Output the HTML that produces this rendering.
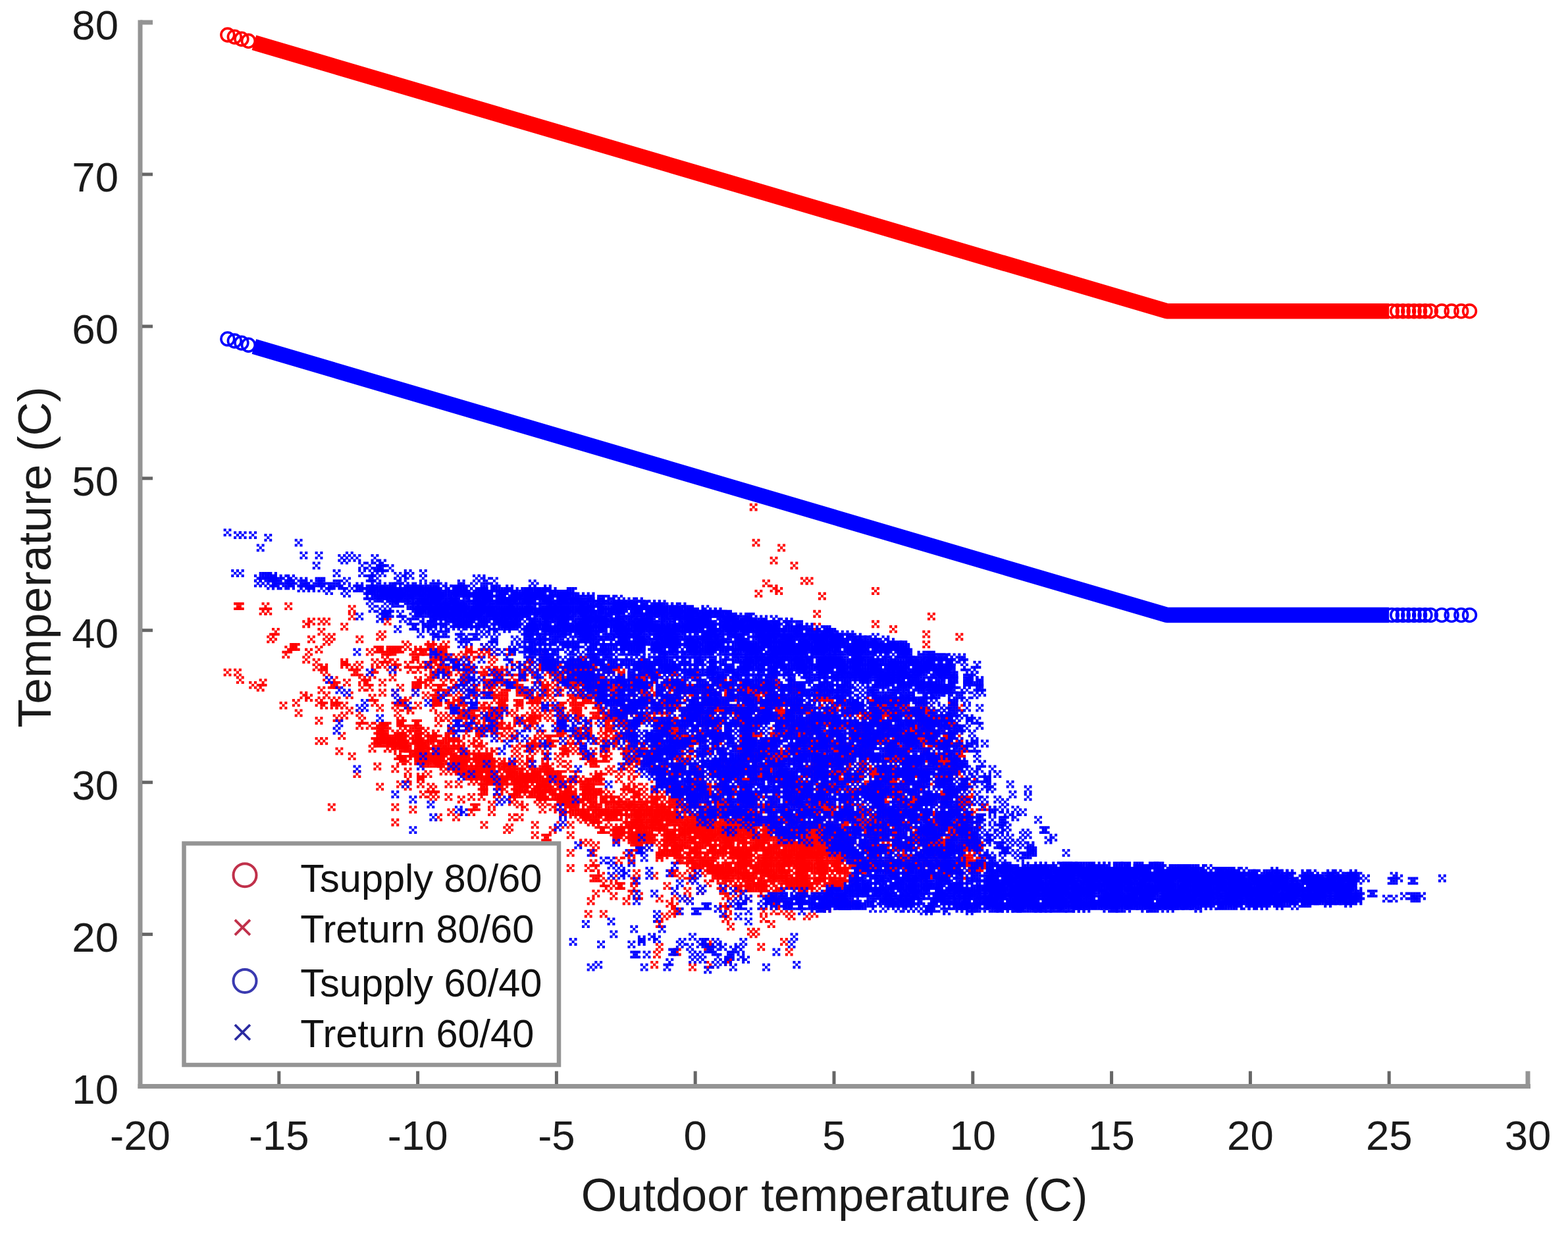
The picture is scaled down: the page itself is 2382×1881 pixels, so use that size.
<!DOCTYPE html>
<html><head><meta charset="utf-8"><title>Temperature vs outdoor temperature</title>
<style>html,body{margin:0;padding:0;background:#fff;width:2382px;height:1881px;overflow:hidden}svg{display:block}</style>
</head><body>
<svg width="2382" height="1881" viewBox="0 0 2382 1881"><polyline points="385.9,64.8 1772.9,472.8 2110.2,472.8" fill="none" stroke="#ff0000" stroke-width="23.5" stroke-linecap="butt" stroke-linejoin="round"/>
<g fill="none" stroke="#ff0000" stroke-width="3.6"><circle cx="345.8" cy="53.0" r="9.9"/><circle cx="356.3" cy="56.1" r="9.9"/><circle cx="366.9" cy="59.2" r="9.9"/><circle cx="377.4" cy="62.3" r="9.9"/><circle cx="2114.4" cy="472.8" r="9.9"/><circle cx="2122.8" cy="472.8" r="9.9"/><circle cx="2131.3" cy="472.8" r="9.9"/><circle cx="2139.7" cy="472.8" r="9.9"/><circle cx="2148.1" cy="472.8" r="9.9"/><circle cx="2156.6" cy="472.8" r="9.9"/><circle cx="2165.0" cy="472.8" r="9.9"/><circle cx="2173.4" cy="472.8" r="9.9"/><circle cx="2190.3" cy="472.8" r="9.9"/><circle cx="2205.1" cy="472.8" r="9.9"/><circle cx="2219.8" cy="472.8" r="9.9"/><circle cx="2232.5" cy="472.8" r="9.9"/></g>
<defs><marker id="mr" markerUnits="userSpaceOnUse" overflow="visible" markerWidth="3" markerHeight="3"><path d="M-1.03-1.03h1.06v1.06h-1.06zM.97-1.03h1.06v1.06h-1.06zM-.03-.03h1.06v1.06h-1.06zM-1.03.97h1.06v1.06h-1.06zM.97.97h1.06v1.06h-1.06z" fill="#ff0000"/></marker><marker id="mb" markerUnits="userSpaceOnUse" overflow="visible" markerWidth="3" markerHeight="3"><path d="M-1.03-1.03h1.06v1.06h-1.06zM.97-1.03h1.06v1.06h-1.06zM-.03-.03h1.06v1.06h-1.06zM-1.03.97h1.06v1.06h-1.06zM.97.97h1.06v1.06h-1.06z" fill="#0000ff"/></marker></defs><g transform="scale(3.86062,3.86242)"><polyline points="119,273 116,276 125,276 127,277 126,275 131,276 135,281 132,282 125,283 141,285 145,285 134,289 125,291 127,291 133,295 138,297 140,304 148,301 155,302 160,306 130,317 155,317 155,323 166,312 171,312 296,199 297,213 307,215 304,220 312,222 316,228 318,228 301,229 304,231 306,232 298,233 323,234 321,241 321,246 344,232 344,245 351,247 366,242 364,249 364,253 377,250 93,238 94,238 104,238 103,240 105,240 113,238 122,244 126,244 128,244 107,250 106,251 108,248 113,255 112,257 115,254 129,251 128,252 130,250 120,259 124,260 138,239 138,242 135,246 141,251 149,250 150,249 89,264 93,264 94,267 99,269 103,268 102,270 111,277 117,280 121,274 317,335 305,344 275,336 294,342 289,328 278,324 310,346 245,320 303,341 270,326 224,318 251,319 173,299 198,307 224,314 273,324 217,307 292,341 286,331 285,342 167,299 249,322 294,335 158,289 315,333 313,342 182,300 255,329 242,315 304,333 293,344 291,349 245,315 266,334 156,292 264,330 286,333 230,310 252,324 227,313 318,331 181,300 178,297 203,307 151,289 188,300 171,296 311,328 207,305 329,347 288,335 183,303 327,332 226,316 180,303 282,342 328,331 261,324 206,310 284,344 232,313 226,317 212,310 279,323 189,297 248,328 167,295 149,289 163,291 309,348 275,324 279,342 188,303 264,320 288,324 310,348 240,320 246,329 166,292 315,350 199,301 313,334 308,331 322,337 266,320 290,329 239,321 231,321 273,339 319,328 274,334 260,332 251,330 296,340 327,331 289,337 188,306 292,338 286,332 331,339 280,334 310,330 330,337 272,335 221,314 160,287 203,308 159,294 282,323 322,342 322,334 274,328 163,296 272,330 323,340 284,334 315,336 218,311 309,337 203,310 318,349 311,333 159,293 307,328 259,320 291,343 246,319 260,323 276,337 312,338 211,308 192,299 319,333 186,299 204,307 304,336 270,338 164,291 286,329 230,321 330,338 321,342 284,326 167,296 277,339 294,349 255,318 306,344 246,317 242,316 243,328 306,331 155,291 267,335 249,325 175,295 208,306 291,336 327,343 178,300 316,343 301,328 229,311 246,316 260,335 206,307 301,341 301,331 308,346 237,311 208,304 305,331 303,333 300,327 165,291 225,311 254,320 257,319 201,304 267,327 272,337 333,346 221,315 269,320 297,335 273,325 291,327 316,335 158,290 260,334 283,344 290,348 314,346 152,294 268,334 191,301 317,336 165,293 255,330 221,309 234,323 291,340 208,312 198,301 257,321 265,331 254,321 171,290 318,339 250,331 298,329 253,316 325,331 289,344 305,345 260,318 230,313 215,308 248,326 206,305 174,296 210,307 243,327 330,348 210,309 257,322 334,340 303,345 328,344 323,336 194,306 175,297 316,340 311,348 268,329 320,340 156,289 273,334 303,336 279,329 220,315 160,294 331,342 269,331 297,342 279,339 268,326 293,336 279,341 238,314 262,323 310,337 184,297 250,316 230,309 183,297 323,339 308,345 248,324 314,348 317,341 322,347 317,346 249,327 298,346 262,331 284,333 307,334 271,338 329,348 276,327 289,325 266,333 279,327 273,336 301,347 264,327 277,323 328,334 217,313 305,346 222,312 178,301 297,339 294,338 318,348 298,342 323,342 262,318 251,322 270,324 155,293 282,329 299,331 295,328 328,333 283,340 277,336 194,307 290,336 321,345 300,329 168,295 332,331 275,332 315,338 318,336 251,329 160,293 193,305 314,338 290,335 294,339 212,306 212,309 316,332 291,334 280,339 316,349 322,336 192,300 321,332 303,347 315,343 182,298 255,324 236,319 282,324 276,329 268,338 186,302 304,343 302,345 295,349 252,317 189,304 261,329 273,340 309,335 221,312 300,338 257,324 262,335 280,329 320,342 192,307 317,330 258,323 223,309 301,343 193,307 293,347 237,314 154,290 319,348 318,334 265,335 239,320 180,302 171,293 222,308 300,347 309,340 326,339 261,322 304,350 236,326 290,342 249,329 290,334 309,327 250,326 328,332 233,315 245,318 188,297 289,333 216,310 201,305 275,320 301,333 284,324 324,335 307,329 182,299 186,301 281,328 304,344 235,312 283,348 299,329 287,325 319,335 223,319 288,329 242,330 265,322 188,302 193,302 296,328 268,328 148,289 291,325 332,333 198,305 309,338 217,317 192,302 329,338 264,323 165,294 263,318 299,351 301,339 232,312 274,332 200,304 297,332 295,344 292,340 242,326 237,315 277,324 334,338 321,338 231,311 316,338 183,304 311,331 238,319 227,319 197,304 210,305 319,336 260,326 190,300 172,300 284,328 259,318 242,321 302,337 288,336 171,299 209,312 297,337 297,333 171,298 224,310 243,320 308,343 301,335 203,312 197,299 177,294 278,330 320,330 332,347 161,296 269,323 282,343 282,332 318,341 208,305 262,333 207,310 322,339 326,341 247,324 283,331 311,347 228,315 313,340 215,309 267,325 183,300 283,326 245,328 293,338 230,319 196,307 300,337 279,331 277,340 201,301 274,336 291,333 288,334 310,347 324,334 262,327 258,322 206,309 315,331 291,331 320,337 304,337 308,338 301,338 297,348 252,329 225,312 173,300 304,334 291,344 191,304 291,347 300,349 242,319 205,306 302,328 241,320 277,331 277,329 259,331 254,329 306,339 215,305 302,329 323,344 241,321 277,330 160,289 271,323 302,339 245,323 308,329 303,328 297,344 213,313 311,335 173,296 153,291 262,319 290,327 294,340 252,327 326,334 270,328 239,316 310,343 202,307 196,309 177,295 229,313 213,309 273,323 181,301 167,293 186,305 235,316 317,343 261,336 325,335 225,314 316,345 281,341 230,318 326,335 314,339 271,334 151,290 184,305 261,318 317,332 198,310 288,326 182,297 259,336 317,338 307,327 298,349 250,330 228,321 294,345 270,336 264,319 299,348 290,346 302,343 193,301 305,341 224,313 322,340 327,346 166,298 299,342 186,303 191,307 229,322 193,303 296,329 250,323 294,336 189,302 264,328 175,293 325,333 322,344 191,297 213,314 290,349 273,321 265,321 292,324 252,320 179,298 192,304 280,332 199,300 277,326 172,299 246,327 271,330 182,303 292,348 312,333 284,341 298,341 288,341 169,290 234,319 314,330 268,323 148,292 241,327 293,339 329,339 249,331 261,331 279,333 289,343 286,335 154,294 240,326 238,321 314,341 307,336 291,337 296,333 335,340 274,340 287,327 148,285 319,334 245,326 316,342 285,332 261,321 207,306 318,328 317,347 206,304 281,333 265,330 269,332 323,346 292,329 192,298 276,339 182,304 257,318 206,308 300,345 181,296 168,297 329,331 331,341 317,334 296,334 259,322 233,316 239,323 220,314 284,346 285,330 280,333 225,316 271,325 289,340 217,311 248,319 326,337 331,345 279,337 164,290 255,331 277,321 185,307 292,336 180,295 254,319 291,339 275,327 295,346 241,314 297,341 272,334 324,330 260,325 247,316 221,319 272,323 154,291 313,336 223,310 327,345 177,299 157,289 254,326 279,324 321,329 298,343 203,309 205,305 327,329 219,313 287,332 261,325 308,344 329,337 149,292 177,302 307,330 268,336 326,338 234,322 283,336 301,334 230,320 280,342 332,337 164,287 283,325 225,320 215,313 327,334 151,291 150,289 314,343 252,332 237,320 307,335 225,317 181,303 261,320 180,298 293,330 281,336 249,330 275,323 221,313 305,328 253,317 287,324 303,334 317,333 253,328 312,328 196,308 240,319 311,330 153,292 257,316 244,326 319,337 298,332 212,313 204,303 316,344 187,298 148,291 335,346 182,301 242,318 191,302 296,326 307,340 256,330 223,316 195,301 255,333 320,335 187,304 305,332 298,348 285,338 250,320 281,344 255,317 311,334 214,315 299,332 209,305 306,328 329,341 201,302 313,346 171,300 164,294 314,347 202,306 174,294 186,304 301,330 297,326 192,306 334,345 169,294 234,318 278,326 288,348 304,338 270,319 157,292 328,348 320,346 256,329 231,315 233,322 188,299 253,323 253,324 312,343 161,290 266,332 174,298 302,348 262,329 211,305 211,314 193,300 307,332 308,339 324,329 149,287 263,330 158,292 297,329 251,321 228,319 167,298 243,316 248,317 315,341 214,308 309,333 309,331 176,298 325,347 206,312 233,319 309,343 220,307 223,313 191,299 248,330 268,327 189,298 322,338 162,296 311,339 230,311 173,292 307,337 243,326 312,332 289,330 330,332 270,327 315,340 289,329 155,288 278,334 321,346 309,339 256,321 312,345 198,306 235,324 247,317 285,344 180,300 293,326 243,319 219,309 187,297 256,324 307,341 312,337 249,316 288,325 284,329 323,345 221,308 326,348 239,317 275,330 233,312 285,334 163,288 265,318 326,344 197,309 275,325 315,347 309,346 197,302 218,313 315,329 317,340 292,339 208,309 328,347 256,316 294,348 273,328 278,331 263,321 305,340 232,323 274,333 295,345 224,316 230,316 271,341 167,292 282,326 278,329 254,328 285,323 174,301 256,327 232,316 324,342 255,323 165,295 264,335 296,336 295,327 226,315 315,349 292,325 283,343 273,330 289,349 153,290 164,298 276,328 168,293 277,327 314,344 324,339 306,349 283,342 174,293 158,294 295,326 170,299 289,327 182,296 190,307 323,332 297,347 262,321 314,337 266,326 179,299 329,330 260,319 293,345 191,298 283,335 164,295 170,298 321,350 308,341 314,342 293,327 312,339 276,338 237,319 296,332 205,310 259,327 251,323 248,315 232,318 167,297 212,312 242,327 305,338 252,326 319,331 287,343 269,324 266,322 287,336 295,335 286,344 306,336 272,327 310,338 147,291 286,340 193,306 309,336 165,296 285,327 291,335 164,293 292,344 181,294 215,310 280,336 275,342 271,339 316,341 247,321 314,336 299,338 292,330 282,327 316,347 276,341 204,306 286,330 183,296 263,323 255,319 211,311 270,322 209,308 213,308 274,326 188,301 283,322 282,341 187,305 172,295 158,291 263,327 202,311 165,298 199,307 266,329 307,331 222,315 321,331 244,314 291,324 202,304 331,346 301,326 231,322 323,343 257,325 196,306 189,300 266,335 335,344 237,326 291,338 263,335 211,310 153,293 285,328 214,307 267,333 286,348 276,325 328,341 185,300 302,338 159,292 194,305 324,331 190,303 278,325 331,336 253,326 330,336 299,339 259,325 205,303 264,333 300,343 285,326 327,340 235,322 310,335 249,328 246,324 250,324 281,338 330,340 293,332 281,345 278,339 283,341 250,319 302,341 271,320 320,332 288,338 292,332 196,305 312,330 219,318 323,341 312,346 315,332 303,344 200,302 298,333 259,317 266,321 213,311 249,324 162,297 267,338 286,345 287,347 276,322 266,338 243,325 315,337 272,331 166,290 250,329 268,331 263,328 251,318 242,329 281,329 266,324 316,346 306,350 224,312 257,315 252,312 316,327 286,323 306,326 300,325 214,304 303,325 307,326 215,302 211,304 326,328 250,309 231,307 235,307 183,288 274,321 246,309 176,289 253,309 249,312 308,323 307,322 329,327 194,295 272,319 197,301 216,301 273,318 264,315 280,318 187,291 304,325 311,325 293,322 326,327 267,315 254,314 208,299 177,290 320,325 323,325 177,291 181,291 169,289 268,315 260,312 179,293 192,296 232,308 150,286 174,290 287,323 248,310 236,307 164,284 208,298 296,327 229,308 235,305 267,317 279,321 276,319 290,319 257,314 319,324 232,309 210,303 297,322 218,304 165,287 208,302 159,286 240,312 190,297 311,327 257,311 283,320 270,318 185,292 274,317 294,321 158,287 277,319 315,327 201,300 178,292 214,301 325,323 256,314 171,288 245,311 291,322 305,325 187,294 225,307 329,328 216,304 281,318 179,290 203,301 246,310 292,323 262,315 280,319 315,321 296,325 327,327 220,304 232,307 211,303 290,321 274,316 328,326 233,305 271,315 170,290 279,319 285,318 278,322 216,303 288,321 162,286 166,256 157,255 160,254 172,258 169,254 154,255 164,255 170,256 172,254 165,256 169,253 168,254 162,256 173,256 149,255 153,256 174,258 174,255 153,255 156,255 174,256 135,277 243,306 164,269 221,277 209,295 157,270 238,312 131,277 247,299 158,276 126,271 264,316 182,268 151,285 226,306 163,258 215,290 244,303 171,272 208,281 190,266 204,272 235,304 219,307 170,265 204,276 330,334 188,292 202,294 259,306 198,263 253,315 212,269 250,313 219,304 167,256 237,283 256,299 221,286 229,297 164,267 216,292 175,282 238,298 146,265 138,262 194,287 259,314 182,278 176,263 236,305 152,258 227,287 231,299 213,302 203,295 261,316 155,260 154,266 214,275 175,258 214,272 259,316 143,266 156,280 168,269 217,272 137,279 154,256 214,270 151,288 180,286 185,277 150,272 145,270 246,296 131,269 214,300 223,300 142,270 171,263 247,292 195,265 226,275 209,300 209,277 211,292 191,285 253,311 161,263 166,268 146,274 202,280 250,312 164,277 203,283 196,267 181,293 132,275 241,291 207,262 234,311 201,286 210,274 228,272 174,268 213,288 225,275 243,304 184,268 177,284 128,273 191,268 170,274 268,318 141,261 147,260 128,266 131,267 210,275 163,259 215,292 258,310 155,255 147,263 124,262 223,302 189,265 201,266 155,277 329,333 132,269 195,299 229,275 164,263 150,268 210,262 147,276 182,281 196,263 204,298 190,263 151,259 206,266 130,269 158,284 136,268 133,277 239,303 238,294 203,276 220,300 176,266 236,291 221,287 226,279 149,286 248,304 163,270 219,297 151,256 207,294 212,273 163,269 243,284 235,306 189,288 221,295 220,277 254,299 154,261 157,283 185,263 169,268 226,304 228,306 252,299 221,269 210,294 229,307 139,264 218,269 186,272 235,283 219,305 210,304 161,279 172,281 182,257 142,283 206,300 213,281 249,299 181,276 179,258 157,276 251,304 239,297 195,289 214,297 141,280 248,307 165,261 193,282 213,268 202,298 137,273 248,302 175,265 232,310 240,314 152,285 233,299 160,275 223,294 221,284 142,267 245,295 235,311 199,290 225,306 217,292 220,280 247,288 234,281 186,280 188,287 229,277 189,272 208,272 177,286 226,295 181,280 182,270 247,301 189,280 149,278 171,276 168,262 245,301 196,264 194,272 222,295 234,300 175,264 222,290 251,300 190,279 159,278 220,282 215,303 196,265 233,300 226,288 233,274 232,298 166,288 211,290 177,276 232,297 198,276 250,298 223,306 179,279 186,283 191,280 140,264 240,302 195,269 144,268 163,284 160,261 284,325 153,262 167,287 204,266 163,272 227,278 202,289 127,263 222,296 224,293 234,291 150,261 237,295 127,262 234,277 228,282 167,273 177,287 135,260 176,295 157,284 242,290 229,289 135,261 178,269 214,294 156,262 155,272 148,255 194,282 172,284 193,261 196,280 214,271 236,289 182,264 204,270 248,294 222,282 217,265 194,264 192,277 183,267 196,277 208,293 221,265 205,272 231,286 202,261 246,295 204,277 207,285 191,286 184,255 231,283 196,284 230,271 208,284 220,286 240,286 198,273 205,266 183,286 173,270 170,260 175,272 216,282 199,285 184,278 174,257 195,274 203,268 206,264 173,262 210,283 242,293 226,283 238,280 172,262 194,256 169,261 195,285 175,253 251,294 182,284 222,263 198,274 200,269 184,270 188,257 179,261 216,269 172,275 219,266 239,286 211,275 236,274 212,278 227,288 179,275 197,276 200,280 210,269 243,288 192,269 222,266 197,277 237,288 215,278 189,277 187,270 188,288 240,292 226,278 179,282 198,272 212,262 209,285 194,258 229,272 217,260 181,275 225,278 237,285 235,277 172,259 187,285 191,278 204,292 179,268 198,287 195,273 176,272 244,284 191,272 172,257 182,260 228,291 226,293 185,275 225,291 233,281 211,282 224,274 201,268 197,266 227,264 210,265 209,283 232,265 204,282 183,281 231,287 204,271 181,279 230,274 213,290 238,293 184,286 179,278 239,289 209,291 187,282 196,268 221,283 229,285 218,263 233,295 221,293 220,290 191,256 231,288 196,285 171,257 230,275 185,262 227,281 229,295 216,290 172,270 190,254 178,259 249,296 177,277 191,283 196,290 237,298 227,280 225,269 208,259 170,259 242,282 222,281 193,279 176,281 231,275 239,287 238,296 176,277 242,291 199,268 207,273 183,262 240,283 181,273 205,261 191,264 193,264 193,268 193,286 212,289 211,293 195,281 193,257 226,269 223,263 184,256 231,289 193,271 212,275 236,279 215,281 208,275 208,292 207,282 195,280 220,272 237,290 199,270 210,280 220,287 236,280 168,266 191,282 234,271 180,272 219,288 180,264 225,272 195,279 172,276 200,256 213,257 239,282 185,260 190,293 203,284 175,263 189,256 170,276 209,282 218,284 189,285 182,266 229,270 170,278 217,274 181,281 185,280 205,264 185,257 218,278 197,278 226,268 159,253 116,254 121,256 122,251 125,255 126,248 120,245 145,256 152,244 336,312 362,284 265,302 277,280 343,335 363,345 267,277 293,287 323,293 337,324 242,269 328,277 343,316 264,286 359,327 278,295 380,339 273,311 286,268 259,303 303,298 237,269 283,319 355,299 307,309 381,331 361,290 338,292 361,304 325,298 349,285 321,299 255,269 382,328 284,281 248,292 379,294 249,280 288,308 322,293 304,266 289,318 279,280 357,326 326,280 325,283 336,287 215,264 281,294 334,314 375,297 347,329 345,279 348,327 333,334 302,280 375,318 359,287 385,332 352,313 268,268 299,322 353,310 376,302 320,301 296,307 327,275 265,290 324,282 233,269 312,322 284,279 280,309 372,321 385,341 349,280 266,277 338,304 328,289 329,311 351,292 344,337 326,325 352,296 271,283 286,289 292,299 373,329 334,316 330,275 342,308 265,305 350,281 367,332 334,307 291,275 351,299 350,323 332,297 290,293 355,288 346,281 320,328 280,279 351,298 345,291 231,262 368,283 368,321 340,333 294,274 379,341 297,318 302,281 357,282 260,297 348,332 301,325 346,278 334,301 363,288 344,314 279,287 278,298 263,278 356,332 324,291 321,286 336,321 313,271 306,280 379,339 339,294 297,270 297,305 341,290 314,325 350,338 334,303 352,333 357,315 375,302 267,275 319,289 309,289 274,305 326,278 252,275 355,298 341,325 309,288 294,316 356,330 283,292 367,307 287,304 361,286 282,302 357,296 314,271 331,304 353,321 381,311 279,312 262,288 260,303 371,327 237,270 296,319 324,274 295,321 339,304 348,341 309,308 352,332 334,294 314,327 303,322 250,286 306,300 387,317 349,338 302,298 356,333 319,286 253,269 272,304 364,329 238,281 354,288 315,281 244,274 335,308 344,317 312,271 377,341 332,342 244,269 326,310 293,276 276,318 323,277 299,292 287,271 289,273 351,325 352,340 317,312 328,293 365,343 369,306 364,319 361,335 292,295 308,297 360,330 335,329 332,302 326,288 371,307 256,279 335,286 362,281 350,294 371,313 266,287 305,289 348,324 290,280 264,268 370,331 353,331 363,306 251,295 337,337 259,284 338,317 275,302 317,287 340,341 328,324 321,272 307,299 309,276 351,297 376,333 311,306 356,294 264,283 363,278 251,280 262,275 348,277 341,319 313,287 283,280 335,330 318,283 325,328 346,311 292,269 228,266 255,272 229,259 380,333 378,296 355,337 314,276 278,273 295,317 244,264 261,278 316,304 368,329 254,264 272,296 321,313 351,304 326,299 353,296 268,286 281,314 369,321 271,313 311,314 234,262 285,289 290,279 358,318 343,328 267,297 369,299 263,311 376,324 297,284 265,264 295,289 344,322 371,292 361,289 305,312 353,295 304,269 289,312 313,295 306,308 374,325 278,276 301,277 333,321 288,319 339,281 247,280 340,321 273,316 253,275 317,323 254,297 292,307 228,267 285,299 293,302 252,265 316,298 292,291 286,274 346,310 329,319 300,293 305,284 241,282 356,289 360,321 355,306 341,297 366,325 346,313 282,314 228,264 348,283 370,334 250,270 369,317 365,286 386,338 320,312 298,289 290,294 364,292 327,309 278,310 347,279 253,289 214,260 304,274 311,315 304,276 231,268 377,313 314,279 348,286 321,325 299,304 322,324 377,326 363,310 270,292 310,314 379,326 371,300 288,303 232,269 355,317 298,278 354,330 317,304 268,291 334,297 266,301 368,308 314,321 297,313 283,300 286,271 352,312 305,274 310,282 291,295 281,271 295,295 279,281 257,272 371,297 301,295 374,301 313,312 289,284 323,326 257,267 380,326 351,340 357,293 293,272 364,339 297,271 311,299 364,284 337,323 308,282 300,317 237,274 348,333 312,314 328,278 338,314 341,309 308,322 244,265 269,282 380,342 335,295 251,283 360,317 384,334 312,295 298,320 318,318 260,292 330,328 301,272 358,304 298,271 367,344 374,300 317,292 325,319 319,275 345,334 313,308 316,317 359,314 306,322 363,304 292,309 365,324 358,279 384,331 314,295 328,309 296,298 296,315 377,298 362,308 370,325 264,309 380,338 339,321 343,283 373,312 305,297 272,314 292,296 339,311 370,306 253,291 331,313 336,306 359,290 294,302 307,276 329,295 343,325 349,301 263,277 275,281 228,268 274,280 368,325 248,273 300,322 268,274 339,332 323,311 278,316 339,300 351,339 283,294 299,312 252,264 273,265 304,301 356,296 348,314 280,272 365,341 291,320 333,296 281,287 258,276 369,301 352,314 377,323 245,278 338,339 284,307 281,276 337,278 278,284 333,331 347,277 362,331 353,280 338,285 362,327 322,329 291,315 306,303 292,271 270,277 327,279 360,338 259,265 306,278 263,295 290,278 325,321 281,299 353,323 280,322 268,299 282,284 352,317 352,304 322,301 344,312 364,282 319,326 266,293 324,308 341,327 316,309 327,320 306,277 308,320 338,303 277,312 309,304 366,280 346,283 319,318 365,288 277,272 286,270 335,294 329,294 367,327 360,339 265,298 315,322 310,288 288,310 357,303 339,299 323,288 369,293 362,283 313,307 272,270 344,309 274,300 301,317 370,342 310,286 367,315 365,334 386,340 314,278 373,342 362,334 361,309 262,284 369,333 360,314 248,288 304,306 299,301 257,306 308,308 248,284 301,318 364,288 314,302 306,274 374,289 232,266 281,292 344,333 355,294 339,342 324,315 369,297 286,311 372,325 233,270 294,319 271,290 352,328 282,317 366,296 288,274 377,278 335,289 255,281 360,312 286,302 230,264 306,282 269,280 382,307 335,339 282,291 321,304 309,313 251,268 274,268 365,339 284,274 293,312 273,271 295,270 336,279 333,280 309,305 341,282 370,292 351,281 339,287 295,314 347,278 366,341 312,309 345,308 324,328 355,301 371,314 360,286 291,270 309,284 249,274 286,278 374,285 259,305 340,327 352,302 372,312 313,284 378,344 366,299 307,274 328,304 260,300 299,272 263,310 268,303 355,309 269,290 309,322 370,321 316,284 364,291 312,269 246,284 328,292 371,335 371,279 343,303 264,294 280,302 258,283 342,317 250,271 374,302 343,304 261,287 257,275 362,321 277,305 376,303 305,296 383,319 270,283 330,321 278,308 338,280 326,276 318,287 351,302 373,343 353,318 292,310 284,309 300,277 275,313 292,289 375,319 278,291 373,306 345,339 338,342 333,326 372,313 361,315 284,268 338,279 271,294 363,284 324,316 350,341 268,310 295,278 333,279 359,279 365,332 348,287 328,288 340,297 323,314 248,265 381,321 330,290 326,304 265,287 264,266 322,309 342,324 288,302 331,307 373,283 299,279 334,293 315,328 326,319 346,291 345,336 228,263 256,282 339,301 366,288 347,300 371,299 297,320 316,310 371,338 297,296 345,325 288,272 254,265 313,309 378,340 291,308 265,308 310,277 294,282 322,281 334,334 307,280 316,278 233,258 349,274 347,328 274,291 336,319 353,288 285,320 377,289 270,299 297,312 345,284 344,306 235,268 248,270 364,321 290,281 265,276 259,286 311,278 277,316 315,298 262,270 321,301 267,270 284,267 359,313 287,319 320,290 355,322 316,303 342,291 344,278 369,292 387,340 276,304 326,316 381,317 366,326 235,264 320,305 364,295 292,284 336,303 332,279 383,332 292,290 356,308 343,313 266,308 351,331 380,324 287,302 365,312 271,270 320,295 337,313 313,294 352,287 374,277 329,312 350,282 263,267 369,339 297,323 298,297 293,279 220,261 377,325 375,341 341,339 306,273 341,280 289,278 371,321 331,297 352,327 272,263 320,327 333,298 253,273 293,300 282,304 383,331 246,287 309,297 303,300 259,271 318,308 268,270 278,318 359,286 310,319 378,325 329,287 277,313 332,316 242,270 260,276 234,267 285,315 298,284 277,274 345,315 311,288 272,307 367,292 316,279 311,273 298,327 354,321 369,332 374,291 273,272 355,314 259,302 296,302 336,326 271,280 306,299 303,289 269,311 308,290 245,281 332,319 322,279 236,265 225,264 281,267 370,341 316,308 340,293 339,338 349,306 294,269 321,317 371,334 269,273 323,309 253,277 357,298 284,283 310,280 347,320 363,286 335,335 319,316 323,307 378,327 281,305 257,293 355,328 284,291 345,318 379,330 255,296 296,288 282,320 286,318 354,316 308,283 356,324 362,329 247,285 325,284 373,294 326,301 369,303 346,332 377,316 345,303 296,314 377,321 260,279 332,284 328,284 255,293 373,291 349,297 327,318 322,291 304,298 333,301 370,286 291,305 338,276 344,299 347,339 298,288 337,281 310,279 343,291 348,290 262,281 304,275 349,294 318,302 291,300 232,271 300,301 337,310 368,337 372,317 324,296 365,289 269,271 280,303 357,337 374,312 367,330 353,275 306,295 382,330 341,324 351,290 318,309 350,330 281,283 304,292 361,279 350,309 244,266 368,332 384,333 327,280 356,290 347,314 326,291 256,302 260,281 353,289 383,339 291,301 233,273 338,289 275,288 331,291 252,293 301,281 226,266 327,310 252,276 244,278 323,274 275,277 351,282 288,305 267,268 315,317 237,276 233,262 376,305 273,291 333,316 330,291 338,287 306,318 375,299 293,283 347,304 359,328 332,293 286,269 309,298 325,317 362,340 379,306 363,279 242,263 343,341 302,293 292,321 354,333 300,295 358,302 241,281 323,323 273,303 276,308 364,290 312,308 308,296 258,277 365,300 368,320 350,308 343,321 341,328 253,263 303,321 258,293 322,327 358,337 277,270 284,316 378,317 257,284 285,305 372,343 351,307 362,314 374,305 367,325 267,310 367,342 297,274 371,330 253,260 377,292 284,297 328,291 263,288 296,280 354,304 355,331 348,303 314,322 342,293 213,262 257,302 331,294 331,317 297,273 323,281 214,259 302,318 313,283 307,281 286,315 358,299 335,288 268,302 351,276 270,293 266,284 266,312 332,323 315,312 320,294 333,284 299,274 327,294 344,276 306,290 283,295 373,333 296,306 308,310 366,328 296,300 293,282 380,321 291,278 290,323 256,274 238,269 307,275 313,278 372,331 352,344 351,286 285,277 284,319 273,274 328,318 343,288 335,337 303,292 300,304 371,331 336,301 342,310 272,308 286,296 372,299 340,294 225,270 342,301 293,311 292,319 358,324 304,287 377,311 282,285 332,324 291,281 277,269 292,303 372,289 379,309 321,287 280,289 336,309 301,274 301,310 334,321 295,299 261,300 333,305 217,263 343,340 311,313 322,314 369,312 252,271 361,277 317,329 301,306 373,304 257,268 352,339 316,287 342,332 380,327 253,293 332,307 282,316 293,315 264,271 267,314 304,315 360,282 270,279 286,300 304,278 348,320 342,338 283,310 246,285 383,338 254,282 332,318 297,315 329,300 276,300 376,342 337,289 346,302 229,265 304,273 349,340 342,295 334,333 349,318 298,296 328,329 345,322 371,282 376,284 238,262 258,292 318,301 384,324 356,278 324,317 290,300 301,271 291,298 295,307 338,284 268,292 333,311 302,302 330,326 321,320 327,317 341,331 237,267 326,294 358,332 332,329 270,288 274,308 342,299 275,284 247,276 320,298 354,314 348,317 314,289 342,281 346,284 308,306 314,288 350,305 324,304 359,319 282,272 384,341 241,271 312,277 311,305 293,281 282,279 372,336 289,303 326,300 330,301 317,295 379,331 352,305 358,340 349,279 363,295 240,264 302,299 317,288 294,320 380,314 363,314 265,272 345,275 318,303 258,291 249,277 276,288 298,302 342,279 303,299 316,305 347,322 332,322 345,304 282,290 326,284 338,319 347,302 353,279 321,274 286,285 332,335 356,339 381,335 313,316 301,305 363,319 348,280 335,332 327,326 289,322 356,311 350,292 378,331 373,331 353,322 326,309 368,323 260,286 352,291 317,309 273,289 302,272 241,272 367,290 341,302 216,262 265,269 319,281 271,318 364,302 252,281 343,310 238,270 377,338 337,332 364,333 353,325 312,326 327,311 262,312 372,326 265,268 278,304 298,275 337,300 257,265 295,322 257,296 359,303 269,314 369,324 349,331 318,278 367,288 327,281 258,303 349,298 357,316 242,274 311,322 240,281 268,313 304,316 249,267 331,276 353,308 263,305 265,315 281,300 353,332 319,311 269,296 316,277 316,289 343,329 368,333 310,294 322,308 382,341 293,288 371,298 280,278 366,283 360,304 295,271 380,337 353,337 294,311 348,334 283,316 307,272 270,274 377,314 377,317 319,295 267,289 322,283 308,277 290,285 325,274 381,314 353,297 242,278 356,299 259,279 263,309 274,288 372,288 318,285 355,276 335,305 335,281 379,314 247,279 258,290 374,328 310,304 363,339 314,275 369,340 266,290 354,339 265,313 307,278 332,313 281,293 238,274 283,283 281,288 262,274 273,302 233,261 375,328 349,342 358,286 366,282 347,333 265,283 248,266 378,337 309,321 340,334 354,336 303,317 283,311 331,295 282,318 277,290 326,305 352,276 299,297 296,320 342,319 366,335 318,292 339,289 253,271 282,278 333,285 333,314 283,278 341,281 288,280 239,263 351,308 378,333 301,327 360,288 353,330 345,307 310,327 287,310 365,331 280,268 342,275 381,328 330,305 244,270 333,342 354,337 252,266 335,278 251,282 290,270 377,327 336,289 299,269 261,302 305,269 379,323 303,267 359,325 334,317 285,279 304,277 225,261 313,315 343,338 331,289 266,278 331,315 360,291 373,325 274,286 259,307 364,287 368,285 308,318 298,283 325,320 351,312 255,297 344,332 338,337 335,311 293,293 289,323 261,286 383,330 275,307 315,291 291,268 379,345 366,324 262,304 306,305 372,342 362,292 294,305 299,280 287,320 261,267 318,314 312,285 332,336 269,294 343,309 350,321 301,312 349,325 339,308 270,315 347,280 352,297 364,286 282,308 356,342 281,282 340,324 226,260 279,285 295,290 361,298 360,340 343,293 305,276 366,277 331,325 310,308 278,283 364,279 240,282 296,282 287,286 343,333 281,301 263,355 210,328 174,303 201,321 236,344 233,335 244,348 275,350 160,299 276,343 303,351 200,325 305,354 156,293 325,356 246,354 178,303 170,313 190,310 201,313 224,328 271,346 238,349 190,309 180,308 159,298 210,324 186,317 185,319 204,321 189,309 250,343 272,344 157,299 248,338 158,298 203,311 196,313 190,305 284,350 199,326 234,345 328,355 241,348 165,308 249,349 265,356 287,353 231,341 320,359 202,314 167,300 278,347 201,315 266,358 251,352 189,313 220,324 231,331 150,291 187,317 217,326 146,294 259,337 284,356 187,307 234,332 264,359 334,355 241,345 286,360 248,335 305,355 221,320 181,314 234,341 190,311 317,360 176,308 264,343 204,316 214,329 310,359 170,310 243,338 325,351 169,312 265,352 224,335 270,350 237,347 285,352 259,353 300,358 168,304 233,339 246,336 248,351 304,358 262,348 169,309 270,353 249,346 257,344 193,316 243,348 156,297 328,353 168,300 294,353 307,358 286,357 160,303 233,345 193,319 165,305 195,314 316,351 306,353 213,318 330,354 251,333 212,315 176,313 224,324 215,329 185,313 330,353 325,357 268,344 311,360 313,349 206,317 265,343 229,331 290,352 224,341 164,299 165,306 308,370 278,372 287,364 231,359 299,372 286,378 295,366 266,374 303,363 259,363 297,366 279,379 300,361 234,351 237,359 149,309 232,354 157,308 258,375 179,321 279,370 241,352 177,319 257,379 261,360 172,321 310,374 296,367 272,380 190,324 160,309 259,372 285,361 162,318" fill="none" stroke="none" marker-start="url(#mr)" marker-mid="url(#mr)" marker-end="url(#mr)"/><polyline points="140,302 155,312 170,321 162,326 136,272 141,278 155,272 140,256 145,264 89,209 93,210 95,210 99,210 105,211 102,215 117,213 119,218 124,222 132,225 92,225 94,225 412,330 419,335 398,312 399,318 384,261 125,228 103,229 105,226 126,228 107,227 108,230 103,226 114,230 135,232 108,229 134,230 130,230 122,231 118,231 106,228 136,233 109,228 101,229 141,231 140,231 118,229 104,226 101,227 112,228 121,229 138,231 111,230 102,228 111,227 136,228 107,226 143,231 141,230 113,229 115,228 122,230 108,228 114,229 106,230 133,229 126,229 119,230 107,229 119,229 125,229 129,230 126,231 132,229 129,232 119,228 106,227 114,227 150,221 147,219 147,224 153,223 149,223 148,227 150,223 145,227 146,227 148,222 146,225 156,226 150,225 145,222 140,219 142,222 142,225 136,219 137,218 125,218 135,220 134,219 166,227 194,228 210,230 161,226 189,227 209,229 166,225 160,225 191,228 158,226 187,227 171,229 156,228 358,261 231,247 227,248 201,241 348,265 313,249 253,245 295,242 183,237 260,238 188,233 198,240 317,248 231,244 206,241 365,267 168,236 361,261 293,243 169,232 233,239 366,258 199,240 240,240 222,248 328,262 259,238 177,232 351,267 297,246 209,245 189,245 152,232 223,241 218,242 356,258 365,272 244,251 330,261 284,244 202,232 206,233 308,250 275,246 202,241 276,245 261,239 172,238 282,257 176,239 216,238 158,234 238,243 228,246 228,238 251,236 176,242 191,234 353,257 264,247 282,253 248,249 257,239 250,237 261,246 192,241 291,245 290,246 246,237 151,235 174,239 289,251 201,236 345,264 274,244 361,263 239,240 216,243 326,261 316,249 196,234 272,248 204,238 276,244 178,231 224,236 304,257 169,238 339,265 290,242 218,248 230,243 341,257 268,239 209,238 289,245 318,258 323,256 188,242 180,237 220,237 371,264 168,238 304,251 241,238 323,260 292,250 324,261 241,249 334,253 208,247 225,242 235,239 330,258 252,242 230,241 209,241 297,245 354,265 167,236 225,235 272,241 256,251 231,248 292,258 262,251 309,258 259,241 220,244 349,254 356,256 354,256 305,256 298,249 186,230 296,245 274,241 217,248 153,234 174,230 289,248 362,264 370,266 277,241 251,239 328,250 348,253 188,238 179,231 282,245 275,240 363,262 190,237 283,248 298,247 195,231 325,260 157,234 203,235 199,235 338,257 334,250 180,241 254,242 375,271 337,253 162,233 207,238 332,255 313,247 228,237 247,253 262,253 186,235 151,233 277,252 345,261 258,252 237,235 234,247 198,245 290,245 244,252 369,264 265,248 172,236 211,240 337,256 285,251 272,253 181,232 170,239 179,245 334,251 320,250 320,255 276,247 284,246 233,243 260,249 339,267 146,231 355,263 263,252 301,253 184,243 351,259 179,242 187,237 338,255 259,255 277,248 166,237 158,229 309,245 278,245 359,268 200,246 200,237 267,247 225,241 298,245 260,239 352,256 262,254 275,243 212,232 210,247 348,268 314,261 181,239 338,254 337,264 342,256 304,246 209,233 359,259 290,250 368,258 239,238 307,260 263,249 282,249 170,242 374,263 244,238 356,257 202,236 336,263 334,260 164,231 326,249 263,248 274,245 369,269 366,257 300,257 301,250 275,247 350,254 202,233 374,262 235,237 199,246 193,242 350,256 356,269 232,235 222,236 301,247 346,257 182,245 234,245 154,235 345,263 228,241 361,260 315,252 255,246 226,235 183,233 312,254 161,236 182,241 223,236 347,258 294,247 282,241 220,234 283,244 247,241 178,236 181,230 291,244 362,258 197,238 208,244 281,249 260,240 348,262 206,232 302,258 346,262 233,247 231,240 339,264 304,243 340,251 316,246 300,243 265,251 265,252 329,253 304,249 301,246 229,244 219,240 327,257 246,245 368,262 318,246 353,263 251,249 245,251 172,239 167,232 309,251 375,266 207,241 342,254 345,265 190,231 251,251 328,256 329,251 212,238 211,239 312,248 211,244 282,254 213,232 282,250 225,246 178,233 259,254 191,236 264,242 277,239 331,250 374,265 340,265 225,236 354,262 281,248 368,265 328,259 338,265 148,234 283,250 287,242 305,248 187,241 202,245 342,253 289,246 301,254 350,262 220,235 270,248 329,260 308,260 214,246 187,243 168,241 217,235 266,242 334,255 206,240 317,260 324,247 223,246 266,252 298,255 319,251 307,257 207,239 169,239 332,253 278,247 375,265 307,250 237,243 263,250 189,241 370,262 311,262 311,258 330,250 173,234 193,241 314,245 336,264 350,253 192,240 252,246 305,251 154,233 153,233 369,262 161,231 335,266 225,232 229,242 161,234 355,267 202,243 371,258 328,254 164,240 303,259 159,230 368,261 185,234 303,249 341,265 296,255 295,255 202,246 210,246 188,239 165,234 171,233 317,253 199,237 249,244 228,234 295,252 315,254 177,241 178,235 197,236 168,230 367,268 288,249 366,265 313,245 173,240 152,236 245,237 292,256 214,240 157,233 258,237 155,236 330,265 297,255 194,242 191,243 180,238 359,269 264,245 255,240 231,249 371,270 288,243 323,249 169,233 243,245 283,242 222,241 222,238 344,255 340,266 230,245 349,264 296,246 269,244 360,262 270,250 193,245 160,232 251,246 351,263 263,251 228,245 244,245 190,243 354,253 203,242 198,241 308,262 164,232 201,239 287,243 163,238 253,238 183,231 237,245 304,248 340,262 243,242 340,264 271,247 352,265 254,252 254,245 229,247 268,242 178,240 244,237 345,262 153,232 308,258 244,247 185,237 277,249 223,247 356,255 327,252 364,270 232,241 373,261 257,241 359,264 280,248 208,234 313,259 330,263 291,247 187,235 290,253 330,259 367,271 253,252 271,243 172,241 362,261 291,253 337,258 373,259 264,244 206,236 311,255 203,236 276,255 147,232 233,244 249,251 186,232 241,243 354,261 155,234 221,233 299,248 189,232 221,241 244,236 373,271 256,237 360,266 301,260 344,259 144,232 354,264 369,258 255,245 260,248 267,241 324,254 262,246 226,244 295,259 207,232 222,233 257,246 245,249 186,237 243,237 245,247 285,243 279,255 283,252 215,249 271,246 261,242 261,252 210,233 266,245 223,248 236,236 247,248 366,259 253,239 261,243 175,242 229,249 336,253 303,253 159,232 181,243 354,268 358,265 306,249 305,247 226,239 296,247 290,251 343,264 234,236 267,249 190,230 268,238 201,233 220,233 236,244 261,249 336,251 296,254 289,257 174,242 296,259 221,235 229,238 265,242 245,239 209,234 207,236 361,270 196,233 202,240 167,231 258,238 279,243 259,240 372,269 184,241 242,245 368,264 316,261 326,251 339,259 222,234 214,241 246,246 278,252 373,270 330,260 206,248 290,256 275,244 294,258 247,249 173,235 324,256 165,232 337,255 269,246 329,256 347,260 231,242 355,254 288,250 199,247 365,264 263,247 220,236 307,256 275,242 306,260 322,250 239,249 212,241 220,241 256,246 203,234 296,243 248,250 357,257 252,248 230,247 279,249 226,249 280,254 156,237 324,249 153,231 288,242 310,244 295,247 368,259 270,246 320,258 216,245 313,256 178,234 217,239 193,235 185,240 322,263 326,254 171,236 173,238 323,263 325,262 302,248 339,262 205,240 262,252 216,235 183,244 192,233 264,254 295,256 242,248 227,247 235,249 350,267 253,247 344,268 371,261 299,250 280,249 196,244 292,245 179,241 182,238 221,246 254,246 233,242 250,253 309,249 271,244 209,244 334,256 371,263 295,245 168,237 210,242 224,238 183,240 238,236 175,237 272,247 321,252 218,247 222,243 272,246 164,238 331,253 167,235 331,260 352,263 301,249 374,258 218,241 353,266 365,262 372,266 299,254 314,259 341,266 221,244 272,245 363,269 305,245 368,271 318,256 242,239 192,232 299,246 318,250 285,249 219,239 191,245 317,257 145,232 287,254 264,249 336,259 224,245 331,264 263,239 219,244 306,252 314,255 313,258 335,258 236,242 183,241 371,265 204,246 204,241 228,244 315,251 184,246 175,241 200,236 349,259 281,253 275,257 267,244 322,253 275,250 257,247 299,251 252,253 266,247 208,246 145,236 237,246 292,255 229,241 325,261 333,250 310,251 182,240 278,250 310,254 234,250 187,242 318,248 155,233 247,243 172,234 321,250 147,230 351,254 284,256 169,240 228,248 278,244 267,239 227,240 300,245 181,245 195,241 262,250 164,230 353,254 357,267 365,257 296,258 213,233 306,257 275,251 354,259 294,256 337,252 346,260 267,252 300,244 363,258 285,252 324,258 310,253 185,245 227,246 330,249 244,248 301,245 244,243 299,247 310,258 170,236 297,244 201,238 278,240 296,249 230,246 192,234 345,256 242,236 273,244 190,238 151,232 348,255 283,254 296,257 337,251 303,246 320,257 367,273 329,250 295,253 261,253 320,254 348,269 312,250 307,245 185,243 271,242 354,257 346,253 182,242 355,269 286,243 339,252 176,243 254,250 261,241 192,239 347,263 264,251 355,257 328,260 313,260 261,240 339,260 230,249 147,231 349,261 311,252 324,260 208,238 166,235 294,242 255,238 305,257 324,252 318,254 277,250 348,251 171,241 258,242 239,245 190,245 367,258 186,240 163,239 326,253 310,260 195,242 278,256 192,236 149,235 184,232 269,245 283,241 331,263 184,245 299,249 173,233 347,254 221,248 357,256 159,237 196,238 278,251 331,265 259,249 256,239 281,252 360,259 316,256 316,250 244,250 244,242 266,243 309,261 148,235 265,239 318,247 206,242 280,250 303,252 334,249 230,239 195,237 177,236 287,246 242,250 299,259 335,263 314,263 361,264 351,255 259,253 350,252 195,240 315,263 338,253 287,247 216,240 210,245 213,246 223,249 350,268 248,238 204,240 360,261 270,255 248,236 266,241 191,235 326,257 189,234 314,249 303,257 317,254 338,263 372,270 290,259 337,257 249,242 217,233 319,250 157,232 303,250 310,248 306,253 369,268 184,242 347,266 232,247 237,247 317,252 271,254 347,255 330,253 206,246 324,251 235,244 252,245 270,241 359,260 336,257 323,259 353,259 335,256 337,250 293,258 212,234 333,265 340,257 334,254 252,237 302,253 310,245 245,250 314,260 262,242 297,257 207,248 316,253 216,237 244,239 265,250 280,247 265,241 291,246 357,260 286,245 366,270 188,240 347,265 198,232 270,245 320,249 196,236 242,249 352,266 271,239 212,233 206,239 278,242 335,254 156,235 236,247 304,256 203,243 305,246 322,255 247,238 329,255 370,265 182,239 312,259 209,243 270,247 264,252 193,233 271,241 218,233 300,249 297,251 369,265 190,240 307,249 322,247 350,261 236,251 241,239 356,265 204,239 374,266 302,249 199,245 200,239 360,265 337,266 297,249 224,232 231,241 304,250 367,260 243,247 179,237 235,247 250,247 325,247 369,271 299,245 256,249 253,243 305,253 315,253 307,247 196,243 336,258 196,240 348,266 150,233 176,231 271,245 282,240 145,233 326,262 312,256 243,246 356,268 228,240 164,241 190,235 353,261 263,253 315,256 203,245 320,248 178,238 254,237 355,253 207,247 351,260 316,258 232,239 342,261 310,256 209,246 349,268 291,254 370,272 189,244 278,241 362,257 232,238 200,232 314,258 188,232 325,248 176,238 199,233 190,232 146,229 230,244 221,236 260,241 277,244 271,252 174,237 328,249 255,248 215,240 289,243 323,261 325,255 201,235 206,235 196,235 247,246 312,257 263,238 293,247 366,262 245,248 182,237 233,250 343,251 221,234 272,254 218,249 353,253 364,260 191,240 199,241 156,233 349,257 243,244 177,239 155,230 356,254 168,235 279,257 224,239 309,254 204,234 231,236 289,256 370,264 294,259 223,237 189,236 171,235 279,247 211,248 249,239 251,250 259,251 219,245 148,231 250,240 276,257 292,243 292,254 205,236 199,244 211,232 277,242 248,246 286,244 158,231 272,240 372,271 241,244 179,238 322,259 215,234 349,263 180,232 360,270 369,260 357,259 250,245 188,234 374,260 371,259 280,255 171,240 313,255 171,232 246,249 277,246 166,236 220,238 309,250 222,240 189,237 209,236 182,233 354,269 293,244 214,233 321,262 256,243 311,253 322,254 271,251 260,252 231,235 361,269 242,237 254,240 311,251 336,261 167,238 337,263 331,257 309,256 345,258 242,238 298,259 162,231 315,255 300,251 264,248 279,241 280,241 170,237 164,236 251,252 169,234 218,238 298,260 271,253 321,256 187,238 214,243 293,248 276,243 252,247 213,245 257,250 215,235 338,260 302,259 351,261 268,241 362,270 325,263 325,249 304,245 302,245 235,242 195,244 332,264 198,236 313,254 215,244 311,254 213,243 302,260 370,258 305,259 231,243 179,244 291,250 200,241 277,243 280,252 372,262 328,261 320,261 171,238 197,232 357,262 374,273 362,263 173,242 180,239 215,243 201,240 155,235 362,269 163,233 180,233 274,247 258,247 270,242 237,240 227,237 242,244 327,249 210,238 251,245 307,261 214,239 163,236 193,237 221,243 366,269 288,247 305,261 191,237 345,253 249,238 210,240 344,257 186,241 362,268 238,250 332,265 334,265 236,243 187,245 352,267 320,262 183,234 162,238 144,234 163,234 181,229 265,240 323,250 350,266 217,241 332,251 196,241 194,237 178,242 340,254 219,242 361,265 249,241 327,248 309,248 331,262 225,234 186,246 287,248 318,259 223,234 328,253 261,247 205,247 268,249 288,245 232,237 319,249 197,245 320,256 160,233 212,240 363,263 174,243 165,240 277,254 324,263 205,233 190,244 195,245 299,258 312,249 203,238 167,233 314,256 269,242 276,256 273,245 317,263 215,236 361,268 196,237 157,235 325,257 208,235 243,235 306,259 272,251 323,252 173,239 285,241 262,247 279,253 236,238 227,239 303,256 262,249 200,245 326,260 356,270 165,237 160,235 220,247 241,245 239,250 286,253 284,255 273,253 264,241 155,237 290,254 352,268 267,254 346,266 324,259 170,233 318,261 333,254 326,264 198,246 176,236 350,265 372,272 309,257 219,237 273,241 233,241 182,231 223,244 207,235 339,254 296,244 318,253 232,248 222,245 245,246 292,252 354,263 315,248 211,234 234,237 323,257 215,248 273,240 333,256 233,245 327,261 251,240 188,237 238,238 259,250 354,270 372,258 182,244 372,264 180,245 179,240 334,259 197,244 366,273 279,246 217,232 175,238 215,231 250,249 273,247 228,247 358,266 243,238 221,249 327,259 177,237 270,239 343,258 339,251 189,238 242,252 315,261 299,256 175,233 291,252 231,250 240,236 293,249 234,243 367,262 168,232 368,269 194,240 326,248 358,259 240,242 339,253 202,234 222,244 357,265 297,254 156,232 199,239 373,260 229,250 208,236 260,245 257,245 287,249 213,239 274,256 321,255 253,251 364,268 318,260 173,244 284,241 344,250 340,256 280,240 232,234 328,266 280,246 175,240 292,248 345,254 327,258 338,258 345,268 218,243 225,247 329,259 330,251 302,251 239,241 293,252 313,251 181,238 216,233 250,243 189,239 348,254 274,251 270,252 322,249 284,247 287,255 300,250 292,246 359,262 216,241 341,255 342,265 273,255 174,233 151,234 349,255 245,252 207,234 191,239 250,239 213,235 163,232 229,240 363,261 163,231 349,266 332,263 327,260 344,260 197,233 326,263 289,259 248,244 214,236 249,248 346,265 298,258 269,254 161,238 312,262 207,245 295,244 222,242 170,240 181,241 251,244 227,236 234,241 228,235 160,231 272,255 209,240 248,252 152,231 294,243 321,253 335,262 308,257 189,233 200,231 198,242 276,242 364,261 337,259 201,246 154,231 260,247 330,252 229,237 278,249 230,237 249,237 145,231 344,264 199,243 236,237 290,247 362,265 364,269 183,238 304,258 238,245 269,247 269,252 224,243 227,245 370,263 325,254 355,256 260,237 355,261 273,252 241,241 343,252 276,241 300,255 351,262 307,255 360,263 303,248 342,260 215,247 239,244 298,254 292,253 197,242 274,246 304,255 254,247 178,243 365,259 191,233 236,235 181,233 272,244 232,251 171,234 306,261 274,252 279,256 341,251 247,237 170,232 305,244 306,256 343,261 315,257 179,236 256,254 217,240 271,240 347,252 260,253 165,239 304,259 324,262 253,242 343,260 185,233 246,243 197,240 187,234 174,241 285,247 332,261 198,234 335,265 217,237 345,255 328,252 150,230 237,244 323,264 298,257 255,242 180,235 194,246 310,252 304,254 281,246 348,257 203,244 298,246 325,259 168,231 300,260 284,245 176,234 284,253 200,234 173,241 254,244 369,270 308,255 159,235 211,235 274,254 308,244 211,246 240,235 266,251 253,237 255,239 242,242 213,236 336,255 241,246 259,239 215,241 255,243 231,239 344,252 147,234 367,270 261,244 280,245 311,256 265,238 352,261 331,261 326,252 161,230 308,251 223,238 174,240 258,240 355,265 258,248 286,241 312,247 355,264 371,262 250,250 375,267 346,267 248,253 211,233 186,242 183,235 325,253 259,245 217,247 343,265 341,259 178,237 217,238 153,235 335,261 371,271 342,263 266,246 174,236 154,230 204,242 251,247 219,247 356,262 364,258 314,248 301,252 199,236 220,239 343,263 252,251 295,254 194,231 375,269 307,253 186,244 200,242 226,236 171,230 161,235 171,237 316,257 321,251 354,266 301,256 167,239 224,240 175,239 177,243 298,251 322,252 188,241 283,253 293,259 275,253 162,242 194,252 190,249 146,239 163,246 201,255 183,250 152,241 157,241 207,250 193,247 175,249 170,245 174,249 151,242 190,254 150,240 165,241 194,256 206,255 203,255 202,251 174,246 170,243 188,247 169,247 177,246 194,251 149,239 202,254 180,250 153,239 201,256 170,248 165,249 197,256 166,240 151,241 181,253 182,251 165,244 156,247 169,243 149,243 181,248 208,248 141,242 170,244 171,250 158,243 191,248 186,250 167,246 174,245 187,250 207,255 161,244 153,241 169,245 181,246 195,248 162,246 193,253 184,252 171,249 167,245 280,260 218,260 338,272 254,259 284,261 255,261 216,254 344,273 228,257 297,270 334,271 366,279 230,253 286,262 233,254 355,274 289,264 352,270 323,270 296,261 328,271 217,252 311,271 227,251 226,260 346,269 330,271 260,256 374,276 358,274 266,261 235,256 303,265 238,255 275,261 272,261 280,259 273,257 272,263 223,255 304,263 374,279 222,253 262,257 240,254 235,260 333,269 263,263 267,258 276,260 338,270 208,255 309,265 211,256 281,261 213,253 266,264 302,264 233,259 324,267 279,264 245,261 259,257 239,258 229,251 303,263 319,264 347,273 331,270 299,264 303,270 241,254 271,264 260,260 326,271 283,267 305,266 354,277 342,272 348,270 375,276 358,275 340,274 325,272 261,257 260,262 262,263 299,266 280,263 254,261 316,263 311,266 317,265 234,259 269,259 342,271 281,267 286,258 300,267 258,254 315,272 258,259 226,253 210,249 263,255 222,254 294,261 249,257 310,268 248,256 258,255 364,273 261,265 251,255 224,252 272,258 266,266 213,259 263,261 291,261 311,270 262,258 209,255 306,262 226,255 235,252 313,264 255,262 296,269 270,257 336,266 256,256 330,270 299,262 246,258 218,257 315,269 232,253 249,256 211,255 318,267 316,265 333,268 238,254 303,264 217,256 330,273 323,265 297,263 343,272 315,270 231,254 352,275 268,261 252,254 321,266 260,257 226,254 255,263 260,258 254,263 284,265 362,271 274,259 342,277 228,261 300,269 287,263 264,262 243,255 274,260 311,264 325,265 213,252 370,280 237,256 314,269 301,261 289,263 305,263 224,253 352,271 215,258 252,255 213,248 327,265 280,265 239,257 242,258 344,272 361,275 236,256 332,267 285,258 281,265 323,269 257,254 265,257 257,262 304,261 302,270 307,263 366,277 327,270 270,260 370,278 248,260 213,251 258,263 309,270 207,254 358,273 245,260 236,254 266,259 265,258 345,269 222,252 219,252 257,259 333,272 233,253 281,264 219,254 213,250 363,273 355,272 252,260 306,264 211,250 292,262 325,267 280,261 268,264 236,260 277,264 329,268 308,270 322,270 269,262 309,264 234,257 321,270 280,262 287,262 238,261 339,266 365,274 288,265 257,253 229,260 210,258 340,267 275,260 293,266 222,261 323,266 289,258 326,269 270,264 245,256 279,261 295,262 218,251 207,256 232,250 212,254 233,258 287,264 253,261 294,262 207,251 238,257 311,268 283,265 260,261 279,263 362,276 306,269 361,280 351,273 219,251 300,262 275,264 340,268 216,252 347,274 333,275 205,252 351,272 294,269 231,258 240,252 293,264 208,251 304,265 252,258 299,263 232,256 368,275 266,262 232,257 332,272 310,263 220,249 291,264 339,273 261,260 241,257 341,269 335,269 317,264 317,267 208,257 264,255 310,266 319,270 265,255 320,266 297,266 362,275 252,261 252,256 328,265 290,266 247,260 272,264 289,265 210,252 348,273 230,251 221,259 251,259 318,272 284,264 218,256 269,257 311,267 332,268 298,262 224,260 244,254 209,248 256,260 268,257 245,253 209,256 225,258 224,256 366,275 214,257 248,254 284,260 313,261 210,248 261,263 363,275 270,261 332,271 230,250 276,264 287,269 246,254 246,252 355,275 326,270 288,256 246,255 273,256 293,263 292,264 291,266 285,262 262,261 294,266 273,264 369,272 358,272 214,250 215,256 267,262 326,272 227,258 243,261 211,252 245,254 289,268 329,266 250,262 302,267 298,266 227,253 294,264 347,275 270,263 335,272 348,275 237,252 248,263 361,276 279,265 355,273 319,268 354,273 209,252 328,267 238,258 296,266 292,261 316,286 310,297 366,342 354,320 271,287 259,273 248,266 329,314 319,284 301,302 312,315 341,304 266,304 276,300 332,311 347,317 369,317 373,292 266,301 320,308 260,308 333,293 299,297 349,341 287,291 383,342 295,276 349,284 364,296 320,298 308,290 287,273 345,334 360,287 348,300 341,314 289,318 354,302 368,287 381,320 314,315 334,293 367,317 265,295 266,295 371,333 300,293 263,307 277,275 352,278 309,314 276,310 253,275 224,265 300,283 362,326 370,307 311,327 247,289 320,282 255,288 375,298 377,302 269,304 295,301 284,318 335,321 340,311 286,288 261,273 346,287 339,302 327,311 359,292 274,280 293,314 306,323 362,329 360,293 369,334 337,296 307,307 320,315 302,279 292,297 272,286 325,313 343,326 357,283 296,300 373,282 379,300 299,283 287,301 319,282 341,284 333,306 333,290 213,258 306,324 246,289 359,291 336,278 357,301 272,303 301,310 269,273 332,331 248,264 355,303 336,313 275,320 290,304 325,320 301,285 324,308 288,267 264,293 372,286 345,329 275,313 343,289 308,272 335,338 297,305 339,293 386,344 307,327 292,311 301,322 304,274 294,309 347,311 335,330 336,289 357,320 339,296 296,304 346,293 361,288 366,339 305,286 293,292 273,314 327,313 333,317 323,303 358,293 279,295 357,333 265,268 376,319 361,316 341,339 281,282 309,294 326,324 294,293 326,315 264,292 357,319 267,297 334,298 249,268 340,279 384,330 275,309 296,283 354,295 377,343 374,329 331,318 362,284 278,300 336,303 292,300 325,302 322,298 305,304 336,288 329,273 232,266 284,305 318,309 270,271 358,321 346,314 369,339 335,284 252,279 300,281 352,295 296,302 362,336 349,329 312,312 359,300 294,321 303,306 310,292 356,341 348,339 359,320 255,268 323,290 378,327 294,296 364,304 301,305 296,305 330,292 303,282 340,333 311,324 287,274 285,279 339,297 278,306 385,339 275,278 269,312 316,289 296,292 367,288 290,270 347,312 334,326 256,297 257,304 330,333 271,291 327,279 281,291 348,289 378,309 268,300 331,308 352,311 221,263 283,304 336,295 328,329 349,304 331,326 276,309 286,313 381,322 313,315 311,310 316,273 237,273 356,318 333,294 296,284 324,309 320,314 328,297 350,295 280,300 338,327 294,278 286,276 246,279 252,264 262,293 367,324 258,290 348,285 310,279 305,311 338,285 276,311 248,285 276,320 365,312 335,304 297,285 343,320 272,301 315,326 313,302 322,313 297,294 359,322 239,273 304,291 262,306 281,299 227,268 361,303 313,298 264,305 277,314 287,278 350,281 265,275 298,302 248,277 324,301 236,274 308,325 318,301 259,298 260,290 339,298 305,276 321,287 341,318 282,313 382,342 338,294 370,303 307,330 338,284 321,301 355,314 331,330 291,316 332,308 363,333 327,324 280,283 383,332 317,278 354,326 341,329 294,308 378,299 316,285 373,312 311,307 302,276 273,278 346,320 298,307 245,268 306,319 339,295 334,330 327,335 316,303 277,319 280,273 356,344 358,339 371,282 270,315 303,281 339,336 354,285 309,276 309,319 286,298 295,291 305,294 312,293 294,320 250,267 341,285 354,330 265,306 298,283 276,322 326,299 252,276 351,280 268,287 363,326 362,279 371,285 249,290 325,325 261,307 287,313 372,320 348,302 332,334 254,269 355,332 372,293 298,286 366,284 365,334 334,295 275,308 349,325 314,291 340,293 294,318 363,283 291,318 255,290 337,334 370,341 304,310 319,317 230,265 305,307 313,277 310,308 291,281 296,296 318,291 332,328 354,282 302,318 302,268 353,288 267,269 344,298 354,321 360,279 313,329 360,284 298,323 359,328 268,284 286,284 351,339 369,321 326,326 300,292 353,313 306,287 371,335 359,279 365,284 358,289 322,302 359,290 381,331 309,274 335,281 296,291 376,282 299,270 377,322 333,286 330,320 271,299 248,288 319,283 358,297 314,274 342,287 259,278 356,320 295,315 310,272 258,298 316,283 374,309 318,311 320,316 304,306 337,332 324,282 223,259 332,277 298,295 333,273 361,342 301,306 303,320 261,287 252,288 305,291 353,285 361,282 336,277 299,296 274,273 263,290 323,293 275,301 297,292 310,305 344,309 368,328 262,295 240,263 303,274 255,291 246,278 268,268 257,292 316,298 338,291 337,338 260,283 361,323 272,282 365,291 334,319 274,309 346,304 364,315 375,312 355,324 283,294 245,272 323,291 328,326 307,328 356,319 360,329 378,318 309,326 242,273 253,289 230,262 342,285 340,310 268,270 310,315 360,310 329,275 335,277 360,296 355,296 303,310 372,323 233,268 294,287 352,292 324,315 229,265 285,311 363,331 291,306 340,285 356,288 257,286 347,303 353,335 251,264 294,290 335,328 357,342 319,294 360,308 269,292 258,277 314,302 334,332 308,310 347,287 326,282 357,307 374,312 365,321 281,304 377,319 258,276 304,281 326,305 281,292 271,276 326,333 369,320 348,279 250,261 289,307 364,308 272,281 324,326 322,284 254,283 367,334 216,258 346,322 291,312 284,297 354,343 303,271 372,280 353,323 278,271 361,294 255,296 246,270 373,333 292,322 383,323 261,274 234,265 301,294 266,306 338,278 371,341 312,273 312,275 331,313 337,329 290,280 319,319 321,271 372,316 253,298 269,283 332,289 372,284 351,293 263,268 370,336 374,303 248,271 346,286 260,305 244,281 344,293 225,260 345,316 351,277 296,314 352,323 360,290 253,269 354,332 331,294 226,265 289,319 273,277 289,284 367,321 327,318 318,287 355,290 288,311 324,270 330,276 288,278 311,322 364,295 345,306 360,341 295,316 364,290 349,302 288,284 375,330 380,325 379,308 363,322 258,301 307,313 352,332 280,276 366,286 345,298 318,319 284,307 323,304 293,308 356,301 382,333 290,303 362,331 336,336 241,261 251,294 320,281 370,293 371,279 362,314 324,283 275,288 282,277 365,326 272,278 377,326 361,299 362,341 303,299 357,312 344,287 333,313 376,316 376,331 350,300 278,316 364,312 303,314 325,290 299,287 215,262 286,308 350,338 293,274 347,298 369,308 264,284 368,308 311,328 209,261 359,319 367,298 248,272 372,336 359,334 350,302 344,315 263,286 343,337 343,308 344,280 286,286 335,287 287,316 364,283 291,313 313,319 369,344 262,285 337,287 339,288 244,267 349,336 351,321 327,297 325,298 268,286 329,297 259,296 327,277 303,308 365,295 344,301 379,326 368,292 276,308 344,284 295,314 305,310 310,326 280,320 348,284 375,303 311,312 333,320 292,308 315,279 256,283 235,264 313,297 352,340 362,308 366,299 338,277 289,301 244,271 305,324 310,310 308,323 320,295 361,335 307,304 356,321 317,321 260,303 264,306 315,311 276,268 243,279 329,300 324,330 343,330 267,271 358,318 372,312 358,305 279,320 306,304 293,280 267,289 339,331 342,313 237,274 344,343 350,288 251,291 367,281 295,285 271,318 358,284 371,314 292,272 376,300 293,313 334,279 216,262 372,291 281,319 288,318 318,297 358,340 323,282 319,314 343,318 343,336 250,277 309,317 355,281 346,341 288,303 239,275 321,275 273,286 307,318 284,295 256,302 272,319 313,309 255,284 272,311 345,281 374,341 345,275 330,274 353,304 278,268 357,294 292,299 367,326 265,312 367,340 214,256 289,294 310,320 337,302 285,270 268,302 247,280 277,300 304,312 378,312 305,290 241,267 352,339 276,294 272,306 374,301 346,321 249,287 340,329 295,325 244,290 376,330 366,298 363,302 338,336 356,310 297,269 328,273 331,329 275,318 220,268 354,304 288,315 380,318 299,293 252,270 312,304 328,287 343,311 235,276 355,339 291,277 369,289 371,316 276,298 360,304 325,327 300,298 301,304 317,310 297,310 311,298 325,328 359,332 288,294 351,320 305,305 363,297 246,274 323,329 290,272 363,338 294,310 355,340 292,281 286,285 359,323 307,292 353,274 365,335 322,287 373,287 368,284 241,260 356,325 336,279 236,272 354,303 296,312 356,292 299,282 292,273 315,300 264,302 244,266 346,298 300,295 341,313 299,280 363,306 284,289 355,317 263,311 325,308 310,312 266,312 207,259 355,306 273,289 345,314 341,287 379,324 337,315 342,286 259,288 334,333 350,319 263,275 330,321 257,289 294,324 294,313 267,301 257,267 364,338 369,327 361,326 368,330 321,305 366,303 346,315 314,324 329,293 339,332 342,335 328,300 315,292 293,286 337,340 239,281 265,301 310,284 258,296 309,316 307,297 296,278 353,290 282,276 336,322 363,318 334,276 284,296 276,279 324,279 358,307 319,324 340,281 259,270 246,267 347,308 363,315 359,330 311,280 383,328 309,310 232,270 345,276 359,317 328,332 332,280 292,317 355,329 299,281 285,320 248,289 269,306 371,301 294,294 242,266 264,309 330,311 360,280 292,287 304,292 229,261 323,321 330,301 379,323 240,274 376,310 252,269 349,310 264,290 321,281 254,275 373,309 243,270 259,279 259,305 362,344 344,332 255,274 263,295 257,310 306,306 337,277 357,330 269,311 250,273 297,299 356,313 229,272 308,303 275,277 262,299 291,271 344,283 344,314 275,276 365,329 303,321 336,301 274,304 317,304 364,311 306,284 273,281 305,300 356,279 366,343 246,268 333,314 374,338 280,288 284,275 371,318 357,332 304,324 372,338 315,308 363,304 314,322 241,268 379,343 258,286 293,268 316,301 261,283 363,286 276,269 316,324 338,346 285,302 304,315 331,299 318,303 364,277 360,317 301,270 302,274 287,304 337,305 279,313 325,294 344,316 329,283 300,300 357,289 280,317 236,273 340,325 370,304 294,286 342,326 347,306 326,283 371,327 384,315 292,268 302,282 216,260 338,345 312,278 352,316 292,283 257,303 370,308 344,308 261,299 351,288 364,343 282,290 343,292 362,280 249,292 277,310 288,298 298,299 346,307 339,330 330,308 274,291 333,334 336,307 378,340 307,299 231,265 355,299 252,281 361,308 345,315 273,285 290,279 333,318 278,274 282,286 214,262 310,289 289,305 285,316 325,310 360,282 329,290 311,287 301,280 348,329 337,278 301,303 288,316 287,300 295,303 367,300 241,278 222,267 377,281 365,313 351,323 281,294 310,287 301,291 342,337 314,314 274,268 277,276 383,340 322,288 360,299 309,308 335,335 362,288 376,341 275,270 224,263 370,323 346,317 251,278 330,295 323,300 312,310 289,283 232,265 372,295 285,309 356,303 373,331 349,311 348,328 345,343 365,318 348,306 324,304 288,272 305,277 366,302 273,295 351,295 264,280 354,300 251,281 262,277 375,294 254,271 375,306 349,288 224,262 345,290 363,282 366,285 367,299 301,289 309,299 266,277 326,294 260,302 347,318 367,337 287,322 235,271 319,289 352,304 316,278 257,275 281,301 301,276 366,296 344,297 348,310 346,324 343,297 279,324 323,298 370,282 308,302 331,298 371,340 352,286 272,316 335,292 253,280 369,307 272,302 316,314 362,313 317,306 375,342 315,320 278,272 265,310 250,286 274,284 362,299 296,293 270,303 316,272 282,318 311,296 308,274 289,300 339,319 368,344 304,294 317,272 262,283 350,277 270,267 276,289 272,314 306,285 324,281 341,292 293,321 269,279 309,313 295,278 313,281 321,278 248,292 293,284 341,343 289,274 281,312 356,309 345,341 303,304 282,273 359,339 272,276 321,286 325,291 271,280 368,299 271,305 260,288 263,262 320,324 317,320 349,296 376,297 236,262 286,300 258,265 279,278 369,333 296,318 310,281 377,347 352,331 341,289 301,309 292,319 346,295 366,334 242,280 293,291 337,297 340,292 357,304 325,273 301,299 344,285 250,268 373,323 305,315 351,305 294,268 214,261 345,283 317,309 280,314 257,298 338,303 363,316 372,297 282,288 345,309 323,302 359,321 344,330 348,293 272,271 309,282 240,261 280,321 340,301 297,313 363,325 279,303 301,278 298,309 306,326 273,299 312,324 248,295 294,302 296,315 266,310 242,275 293,293 358,285 364,307 291,298 362,317 310,301 333,319 241,280 345,335 368,335 323,307 283,295 347,295 358,304 253,301 329,312 256,294 355,295 334,299 292,324 370,309 331,315 296,287 357,299 345,312 375,334 346,288 258,292 361,339 317,297 365,339 232,261 267,302 237,268 373,341 310,280 344,324 329,320 295,281 311,323 277,286 250,271 372,304 302,278 259,272 320,288 376,337 295,293 217,261 328,282 262,287 323,272 286,305 355,291 373,339 281,300 316,311 365,323 267,275 312,328 329,286 374,289 290,318 286,321 313,285 314,270 262,269 373,316 385,333 307,300 324,311 251,296 286,304 364,328 334,335 358,291 330,300 349,290 326,297 366,326 336,319 378,336 275,310 292,313 350,296 341,286 338,340 286,310 309,306 314,278 290,301 340,288 307,302 272,317 261,292 277,292 319,311 368,338 254,300 280,274 326,331 292,309 231,268 366,313 363,303 368,311 259,308 369,303 329,331 242,276 338,276 372,309 376,320 264,294 335,312 272,279 228,264 362,337 306,276 291,319 344,275 313,306 245,286 339,313 361,318 293,294 310,306 322,305 366,291 270,307 305,272 354,284 253,276 315,291 336,275 275,271 315,330 292,286 277,295 309,304 370,296 284,320 297,307 297,302 311,303 260,304 345,313 333,283 353,301 332,327 317,319 356,275 279,270 338,312 332,294 259,290 300,286 365,324 265,297 275,285 324,294 298,278 317,291 316,294 291,314 341,334 307,316 256,299 282,284 322,295 334,320 318,295 343,277 378,339 375,308 254,301 379,329 342,343 329,282 364,326 262,264 336,291 378,326 311,282 351,314 261,289 359,302 337,326 268,292 308,283 263,297 248,265 377,287 269,280 255,265 300,322 378,322 356,291 360,298 356,286 284,302 378,307 347,333 293,323 379,330 326,325 315,297 262,272 337,310 284,281 375,317 336,326 358,333 309,271 352,325 352,309 337,327 374,344 231,269 274,313 260,286 320,322 307,285 306,271 343,298 374,299 310,307 348,291 238,272 304,282 258,297 270,308 304,320 372,337 336,325 329,329 362,282 375,320 319,292 355,278 302,300 300,318 362,300 278,283 343,280 289,322 287,295 321,292 342,340 310,311 362,315 325,306 281,310 315,294 339,340 337,295 356,302 281,271 366,314 306,318 325,277 327,284 263,310 273,266 368,288 315,316 330,288 340,340 325,287 316,313 347,319 366,329 284,304 363,330 324,324 217,263 262,294 312,323 329,332 292,279 278,275 329,333 355,328 270,282 343,313 278,281 379,319 244,276 365,336 320,279 333,316 352,282 271,312 299,310 319,306 303,322 280,291 289,288 317,276 352,281 284,303 280,284 253,304 363,305 365,333 293,290 314,298 265,302 280,301 371,302 382,340 371,324 249,274 329,301 343,334 307,308 330,313 314,281 282,299 297,328 334,311 312,289 321,303 279,287 309,320 332,282 351,335 349,285 271,308 263,279 253,291 361,317 320,302 327,321 370,320 290,287 331,295 368,341 283,275 378,300 345,331 293,301 372,317 285,319 361,298 320,320 315,276 330,275 340,339 263,294 269,265 316,316 271,310 239,269 376,338 283,266 298,321 296,280 359,299 210,260 239,276 303,324 227,263 274,312 270,291 281,269 295,321 285,308 292,302 249,277 276,278 248,278 295,292 294,274 315,324 279,280 236,270 279,284 276,292 254,299 375,325 332,330 230,273 306,273 271,313 283,302 376,344 323,310 321,300 352,322 334,321 372,292 249,279 362,304 327,286 297,321 369,329 357,298 276,273 322,323 368,297 294,281 274,316 347,300 271,271 295,279 269,299 333,303 324,291 361,343 303,300 282,300 298,317 362,298 355,285 357,281 322,326 372,307 261,295 279,288 363,310 318,324 352,319 358,292 259,295 261,309 360,307 296,273 333,305 341,316 236,275 360,338 336,286 359,312 374,280 360,309 344,321 349,322 255,289 358,279 284,269 296,277 346,302 364,322 312,286 353,344 348,324 354,338 311,306 301,281 349,319 341,296 329,323 336,316 275,266 388,331 261,262 343,291 277,299 314,326 289,299 267,284 266,292 267,270 278,288 285,269 266,273 362,283 348,341 283,289 332,295 287,302 343,309 286,311 386,337 275,305 325,282 339,322 379,327 355,316 346,328 270,277 328,325 328,284 255,299 357,336 350,318 312,316 375,316 292,316 374,321 325,314 308,304 342,296 275,297 268,269 314,299 374,287 336,342 254,296 353,337 368,313 296,307 372,340 267,292 231,263 366,315 331,292 318,312 226,262 313,278 327,288 345,288 371,320 369,293 306,301 314,320 349,307 369,284 244,280 353,286 293,304 303,272 342,295 263,301 230,269 273,282 364,342 365,319 373,335 292,291 331,289 254,279 354,296 376,294 369,336 321,319 364,285 268,313 270,293 321,297 286,279 330,327 263,274 311,275 235,269 263,265 294,314 266,284 380,332 373,336 293,281 378,342 372,308 276,283 281,274 370,337 292,312 319,298 303,269 351,319 330,322 367,291 299,271 382,315 327,292 328,285 331,286 261,296 376,293 327,315 322,314 373,340 291,303 331,332 318,310 265,269 315,319 331,284 278,302 351,337 347,335 332,335 282,308 319,275 229,266 323,280 218,259 353,299 300,291 375,313 293,295 345,280 363,287 320,274 376,334 358,298 307,288 261,276 311,278 384,322 321,293 288,319 302,323 364,297 373,332 313,299 335,298 266,272 367,313 343,293 265,307 273,273 367,314 358,301 316,290 346,285 347,302 291,275 349,293 217,262 374,282 333,332 335,324 376,335 341,288 346,338 346,291 259,269 323,284 331,303 297,323 310,283 336,290 257,279 295,298 282,281 339,310 357,315 329,327 322,317 245,284 300,276 255,276 317,323 342,332 271,289 275,296 224,271 243,274 327,306 319,272 321,313 267,305 342,325 342,323 370,287 377,301 263,283 250,288 313,294 254,292 357,305 243,284 300,310 239,263 244,272 373,320 383,326 345,338 238,263 286,287 380,320 361,301 288,308 350,317 373,305 315,296 339,338 243,267 384,332 364,319 319,277 346,334 329,280 373,311 351,318 244,269 346,316 358,290 275,280 300,275 332,279 379,315 256,264 319,285 343,335 324,320 348,307 261,267 322,300 262,292 389,338 311,291 291,297 288,285 321,298 347,326 343,307 335,294 324,292 287,310 267,316 230,271 244,274 359,311 310,276 346,325 282,314 379,321 375,339 375,319 245,279 303,326 287,305 268,308 327,304 283,283 317,288 332,337 353,325 290,291 287,272 276,312 268,280 267,309 305,322 339,290 333,331 377,311 335,276 360,322 326,298 248,276 331,283 367,333 294,297 306,286 270,310 247,270 290,298 287,292 340,341 314,307 312,292 238,266 266,294 257,266 258,302 368,301 351,299 328,309 374,311 251,268 353,309 338,318 357,325 369,340 287,286 312,294 366,325 295,323 341,341 259,309 341,312 263,278 340,335 282,298 295,296 349,277 360,324 370,334 350,327 380,302 365,288 352,317 322,272 317,324 245,276 370,324 377,333 256,289 273,313 374,333 367,305 302,280 313,274 365,331 248,284 363,343 385,340 294,277 335,308 333,321 300,311 335,283 276,295 334,284 387,335 344,329 270,295 328,305 337,292 364,325 360,301 347,342 285,326 251,277 259,283 377,334 308,284 268,311 266,274 345,289 328,288 346,277 353,333 250,284 317,303 302,314 321,322 326,278 343,341 345,318 302,295 257,278 344,299 291,302 357,284 322,297 353,282 367,283 364,335 269,284 285,300 384,335 334,338 323,292 324,298 306,275 374,323 305,309 322,310 316,307 357,329 292,294 357,306 370,314 363,327 282,289 283,300 334,305 337,313 330,334 298,298 232,264 249,298 312,284 243,277 317,327 316,318 281,305 374,296 243,282 352,329 362,305 277,281 247,276 382,324 324,305 293,287 236,271 355,344 272,309 326,289 283,301 367,280 312,317 305,301 304,293 266,309 285,292 272,277 294,284 341,282 382,329 295,275 304,327 261,308 246,273 227,266 337,344 314,313 338,307 251,269 340,309 348,311 311,319 350,294 286,282 345,308 344,281 263,298 237,270 311,299 303,291 373,314 370,327 284,309 256,305 356,298 375,280 328,306 310,295 340,332 272,270 290,313 319,321 375,289 360,337 328,298 279,279 234,266 374,284 371,284 347,339 337,290 304,275 265,291 233,273 342,312 225,266 270,317 312,305 294,311 281,268 361,293 231,266 367,328 279,297 294,316 316,282 301,296 285,312 267,293 252,296 323,299 276,290 360,319 354,309 336,335 341,278 350,274 371,323 360,331 277,290 250,279 322,291 311,286 321,302 338,314 304,296 261,303 391,340 274,281 260,272 373,313 342,292 312,290 282,272 260,295 368,285 250,283 310,321 310,282 375,300 252,283 290,320 313,284 287,290 375,328 373,294 278,284 320,306 324,300 363,336 331,314 342,291 373,343 342,319 300,314 378,310 307,282 303,279 332,300 302,317 295,302 298,276 288,297 341,290 383,329 277,303 251,274 319,280 285,297 315,285 351,292 275,304 299,307 353,289 365,315 371,293 331,319 315,286 271,284 313,301 364,320 353,329 303,318 358,342 348,333 284,277 320,286 350,287 349,321 327,302 259,293 286,306 188,286 194,279 172,257 221,291 211,270 220,284 200,269 195,266 229,294 182,270 185,283 186,268 228,266 177,271 192,282 231,284 218,266 186,263 229,283 178,278 239,277 200,264 183,264 180,270 218,286 244,293 221,286 208,273 204,283 194,268 214,277 182,267 174,260 205,261 179,261 191,269 224,266 201,269 227,272 189,267 182,275 208,271 193,264 208,294 249,284 189,259 196,265 206,290 196,281 226,285 170,256 192,286 191,273 193,284 223,282 173,273 181,268 237,279 185,266 212,286 204,288 220,264 220,283 232,290 225,282 194,290 170,257 175,265 192,273 227,291 202,290 233,291 183,259 240,292 194,285 205,265 174,274 236,284 242,285 212,265 200,260 221,285 183,286 173,264 219,272 194,288 207,286 185,267 182,262 190,286 185,272 171,265 198,268 184,285 228,289 246,297 185,277 238,292 222,268 180,260 210,264 178,279 185,262 203,262 186,276 220,279 168,261 198,279 176,258 205,266 190,281 177,260 243,289 205,271 183,280 180,284 179,279 245,281 229,293 232,296 232,271 179,284 218,277 185,271 223,268 179,262 213,272 230,287 327,332 278,323 267,320 288,326 287,327 310,330 318,331 275,323 309,328 384,312 386,272 397,331 387,292 388,308 385,285 394,334 384,270 405,335 380,305 378,259 393,332 395,334 396,325 382,288 385,322 401,337 381,266 383,327 381,282 386,321 389,310 399,335 380,269 378,271 381,306 384,298 405,333 390,322 383,265 380,271 384,283 396,340 381,292 399,321 387,306 385,278 380,286 390,319 385,326 405,332 394,323 397,329 383,291 385,302 378,280 384,306 406,335 403,336 396,334 392,314 381,268 374,269 399,331 383,268 394,332 376,286 383,294 377,291 404,336 395,324 388,306 380,294 385,268 402,332 377,273 388,329 380,268 390,325 392,328 386,317 393,327 383,303 395,317 378,258 386,300 393,325 389,336 385,271 379,293 383,308 386,329 380,264 383,273 402,328 395,326 385,267 392,318 390,337 383,263 375,299 390,330 381,267 378,286 400,336 379,301 376,284 390,302 387,309 386,325 392,332 389,329 383,292 374,288 379,307 387,314 390,318 406,334 380,278 379,260 401,331 397,320 384,296 381,283 379,313 395,329 395,320 377,286 380,310 409,341 380,275 375,277 375,259 390,338 385,270 388,305 388,327 390,309 395,315 379,262 377,274 380,267 385,321 394,322 394,337 427,344 428,343 435,344 486,354 422,346 516,343 533,345 425,356 473,347 415,354 485,343 405,357 519,348 447,342 389,349 433,350 506,350 435,345 497,356 435,342 405,342 390,351 527,352 502,346 422,350 428,347 458,348 394,350 459,343 411,352 446,352 530,352 468,348 497,355 478,349 503,350 469,356 476,353 430,349 416,344 398,347 474,345 429,349 438,343 418,344 476,350 403,348 490,348 430,346 508,354 500,345 397,341 461,343 400,351 520,348 488,347 526,353 389,344 401,356 498,345 510,355 490,351 525,345 525,353 445,355 488,345 425,354 427,345 469,350 404,353 445,342 425,343 493,343 441,352 420,357 488,344 424,352 477,344 418,348 458,344 411,343 409,344 473,344 456,344 411,354 449,354 388,345 480,343 485,352 512,345 399,356 471,346 526,346 490,344 494,354 391,354 529,349 514,352 410,343 409,355 392,356 521,346 484,346 414,354 430,342 476,351 428,351 411,348 441,348 420,340 449,344 474,347 405,343 395,353 487,355 489,354 532,348 473,352 529,348 437,343 430,344 423,347 515,351 461,346 435,341 525,348 482,354 410,357 424,353 472,344 439,357 464,355 408,348 433,348 483,343 420,342 485,346 417,340 512,351 534,351 460,343 471,342 404,342 445,352 485,353 431,348 469,345 498,350 500,344 505,345 435,340 472,346 448,342 469,353 414,345 488,348 511,354 408,357 500,349 519,345 492,350 399,343 453,347 462,349 450,351 465,348 433,354 406,344 413,353 450,353 513,346 486,346 437,348 487,350 449,341 408,343 478,354 511,350 415,342 442,340 440,357 508,355 425,350 478,347 531,348 399,357 390,349 453,340 428,352 425,340 464,345 452,350 470,343 502,345 471,344 444,354 463,344 422,342 460,357 447,345 466,347 453,348 526,349 399,341 401,348 408,347 491,344 495,344 454,345 413,351 509,346 509,351 455,341 471,347 463,341 466,344 476,352 406,352 454,351 417,348 473,356 444,348 505,349 461,341 471,345 461,347 446,346 418,357 499,343 508,350 489,351 417,350 456,347 405,347 459,347 411,342 392,349 495,348 461,342 463,352 410,341 400,352 434,353 401,351 417,354 458,354 400,356 459,346 448,350 402,345 407,352 414,346 474,348 468,354 528,354 389,356 505,343 421,344 420,350 456,353 413,355 413,354 506,348 459,348 468,341 519,354 466,354 411,350 407,350 461,350 429,346 437,346 436,355 426,354 531,345 402,353 456,340 478,348 484,352 496,350 433,349 415,348 421,340 428,355 503,356 415,347 513,343 490,350 399,351 469,354 520,347 488,346 481,354 503,343 420,348 493,346 466,352 422,343 444,345 522,348 505,351 424,341 500,350 453,356 472,345 433,346 389,348 449,342 402,355 466,343 402,352 439,344 497,352 412,348 480,346 455,356 437,356 496,351 469,342 478,350 513,347 428,350 446,348 505,353 470,344 495,353 476,354 487,349 493,347 425,357 393,347 487,347 434,344 502,354 501,349 415,356 419,350 426,351 477,345 499,348 437,345 418,356 403,350 489,347 436,350 462,352 481,344 526,352 460,342 436,356 442,348 487,353 497,350 463,355 467,347 514,345 434,347 431,341 499,344 463,353 467,354 451,347 405,353 424,349 513,351 504,346 418,342 419,345 499,349 395,341 481,348 427,349 501,345 454,347 484,355 390,344 388,357 496,353 462,355 443,356 487,351 480,342 438,347 412,351 439,341 439,342 430,343 430,350 503,352 467,342 452,351 416,351 475,351 423,356 489,348 500,352 472,347 471,357 455,354 396,342 529,346 391,349 496,345 469,349 498,349 402,343 526,351 520,345 425,341 416,356 467,353 491,353 465,345 438,348 447,356 426,344 498,352 502,350 409,343 434,349 400,353 412,355 418,341 452,349 487,344 437,354 435,343 499,350 431,349 427,351 523,347 492,355 492,348 489,342 521,353 423,353 428,344 474,342 513,352 414,350 423,349 462,346 456,350 460,347 530,353 404,355 447,344 403,347 429,347 449,355 439,340 505,355 517,346 471,350 516,348 390,354 437,352 494,346 429,348 427,343 515,348 475,356 455,340 400,342 491,355 475,353 444,352 481,345 469,343 427,347 523,354 393,340 388,347 396,347 470,342 474,349 492,349 439,351 513,345 458,350 415,355 534,350 421,350 517,345 516,347 402,348 524,352 461,344 441,343 450,345 438,350 418,346 528,346 465,347 424,348 469,351 484,348 417,353 415,349 487,346 417,347 405,356 396,346 391,355 429,345 402,347 483,353 507,350 450,354 531,344 465,355 393,353 397,350 391,351 393,352 533,353 519,344 430,348 491,354 455,349 459,353 401,350 493,351 393,354 400,347 524,346 407,355 456,346 470,353 405,352 419,343 421,352 445,353 527,345 533,344 465,341 514,353 459,351 388,353 451,355 513,353 484,344 397,347 439,354 402,349 407,351 465,343 394,356 486,347 516,345 417,344 423,350 518,350 430,341 515,353 441,354 418,343 501,351 428,353 395,357 518,348 406,348 481,343 431,346 411,341 473,351 432,355 491,352 453,349 532,351 396,351 425,351 405,341 462,342 427,357 402,342 416,345 522,354 531,347 407,345 407,356 403,356 527,349 436,348 392,357 435,352 393,351 499,351 397,352 407,353 500,346 414,355 499,353 445,351 429,350 456,355 503,344 438,351 388,352 457,345 460,349 390,355 425,352 469,348 419,348 443,345 462,356 424,350 456,342 413,357 436,349 514,348 409,351 457,341 395,340 422,352 453,357 527,348 389,343 462,344 454,356 501,347 420,341 464,342 428,340 413,350 505,346 535,352 519,349 440,344 444,355 502,352 503,355 459,355 445,348 468,352 530,355 514,354 443,346 419,340 526,348 481,351 397,355 437,342 398,352 415,352 391,350 493,345 486,342 466,341 419,344 420,344 441,345 450,350 507,348 465,354 422,341 493,354 399,349 500,348 508,344 530,350 426,348 508,347 501,344 495,351 470,347 492,344 484,342 391,356 512,355 391,357 473,353 476,346 418,355 532,343 492,353 447,353 398,356 484,353 482,342 480,348 528,345 520,353 483,354 516,352 400,354 507,343 413,346 455,346 453,354 416,352 434,354 479,352 483,348 448,354 482,347 416,354 427,356 414,341 422,355 405,350 414,352 458,351 433,356 487,352 447,340 401,353 478,351 392,348 494,350 395,345 505,352 457,353 404,347 466,342 455,350 480,355 486,353 460,344 457,347 485,350 415,346 401,355 470,349 423,351 464,353 467,355 506,351 423,342 512,353 423,354 422,354 401,346 445,345 399,350 475,341 460,350 400,345 453,343 483,352 495,354 479,342 443,340 513,354 427,346 428,356 517,344 442,355 489,349 507,351 421,341 467,356 480,344 500,354 427,350 490,356 408,340 440,340 403,342 456,341 442,342 445,344 507,344 473,349 393,357 460,355 452,344 509,352 433,351 429,341 442,356 437,350 400,348 463,351 532,345 406,349 514,344 419,341 418,340 470,356 422,353 431,343 397,356 484,356 522,355 454,349 398,349 478,355 495,346 514,355 521,350 486,349 509,348 496,354 479,348 451,351 484,343 438,349 418,350 443,354 442,344 391,345 398,345 456,356 425,342 475,346 501,350 524,348 404,344 425,348 516,354 472,349 413,343 451,353 420,346 485,345 408,351 475,350 461,353 429,356 447,355 465,350 400,357 498,344 408,350 517,347 396,345 416,349 468,355 488,351 424,356 505,347 402,346 445,341 513,355 503,349 468,353 501,342 465,342 412,356 462,343 450,356 391,343 456,357 426,346 493,353 399,355 445,354 417,355 439,348 438,342 392,350 421,357 412,350 519,353 457,355 515,347 507,347 458,352 403,343 526,347 438,356 432,356 507,349 491,347 531,352 446,343 419,347 404,343 415,350 479,347 409,346 527,344 459,345 400,350 448,343 438,357 412,357 447,343 398,344 432,341 409,342 480,352 419,342 526,350 480,345 465,349 404,346 458,345 522,350 465,352 439,347 515,345 532,353 393,346 396,344 502,355 518,354 417,351 459,350 403,349 451,345 453,350 467,344 487,348 406,356 427,342 394,345 410,346 444,346 418,353 484,351 395,346 424,340 435,347 487,356 504,348 498,355 516,346 421,351 448,356 466,356 434,355 412,343 449,348 494,351 453,344 406,355 478,344 487,345 451,349 452,354 480,356 475,343 437,353 396,348 425,355 447,350 408,341 459,341 477,346 409,353 502,347 421,354 434,345 512,350 426,342 518,351 470,348 474,352 407,346 440,352 403,352 407,343 398,341 420,355 452,357 395,356 459,352 527,353 534,344 482,351 524,351 449,347 481,352 507,353 388,348 464,354 466,350 449,350 417,352 477,351 510,352 507,352 391,347 521,347 479,350 408,356 488,343 415,340 530,349 401,342 397,357 503,346 503,348 509,350 475,344 519,346 456,343 399,345 451,354 433,343 442,349 414,351 419,349 440,345 530,344 497,349 497,345 528,353 456,348 398,355 443,357 422,340 486,352 444,351 471,351 495,345 442,345 471,349 522,347 524,354 501,353 442,351 435,346 452,342 509,356 452,352 414,349 468,345 396,354 401,343 389,355 406,353 405,355 512,348 463,356 476,342 458,353 529,350 460,356 417,342 394,342 419,346 421,346 490,353 416,342 472,342 494,355 443,343 436,346 406,342 431,342 404,345 448,349 450,352 477,352 426,345 407,348 469,344 399,346 513,349 453,345 482,345 495,356 390,341 405,354 425,347 472,354 527,346 388,356 524,344 412,344 488,349 446,344 513,344 532,354 436,352 412,341 469,341 431,355 409,357 488,352 521,351 485,355 446,351 433,353 413,352 421,347 390,348 485,354 391,344 520,351 457,348 496,346 389,341 518,353 491,351 471,352 402,356 440,353 403,340 522,349 402,357 390,343 428,342 485,347 453,351 460,346 441,347 420,352 403,355 483,350 464,346 494,343 389,353 475,348 532,352 525,349 461,349 395,343 422,345 502,343 523,344 464,349 438,352 417,357 473,354 437,347 500,355 504,352 529,344 516,353 436,342 482,344 509,347 396,341 439,343 482,348 454,340 501,354 416,343 509,353 490,346 474,355 433,355 417,356 525,344 409,349 397,342 452,355 431,345 433,345 392,341 485,349 402,350 475,355 402,354 447,354 438,355 497,347 401,352 413,349 447,341 429,355 520,349 481,355 413,344 412,353 441,344 471,354 450,344 444,353 412,346 406,341 446,354 532,346 527,354 442,354 496,349 531,354 462,351 417,345 436,343 469,347 441,342 405,344 493,344 486,343 464,351 395,355 420,345 448,347 411,351 403,345 492,345 412,352 502,353 458,347 475,349 516,351 504,345 526,343 388,350 467,351 468,344 429,352 408,344 461,355 521,348 446,356 476,347 391,346 483,347 408,345 439,355 440,351 505,348 397,348 495,350 460,353 534,354 413,341 433,344 442,341 470,351 478,353 531,349 409,356 493,350 450,347 454,350 392,354 469,352 462,354 447,351 450,357 442,343 463,354 464,356 457,356 439,353 416,353 528,349 498,346 421,356 442,353 483,356 473,348 396,343 458,349 440,356 404,351 485,348 469,355 515,349 443,347 433,340 455,342 484,347 511,349 478,346 514,351 410,342 497,351 410,340 479,343 457,343 507,345 394,343 456,349 489,352 419,354 408,346 432,344 463,345 499,345 457,344 524,347 436,353 457,346 490,347 439,352 391,352 463,342 479,356 426,355 451,342 483,351 518,352 421,353 456,354 434,356 523,343 412,347 485,344 397,353 399,342 423,343 454,342 517,353 429,342 398,353 523,345 393,350 428,341 498,347 506,355 454,355 458,343 392,352 448,341 401,357 523,349 520,350 461,356 410,347 400,344 391,348 464,350 401,347 449,352 407,347 438,346 393,348 418,349 389,340 390,353 480,349 434,352 517,350 389,345 448,340 393,356 418,351 472,341 406,346 492,356 461,351 429,340 527,351 407,341 415,353 393,342 498,353 430,345 468,347 398,346 475,347 414,344 452,353 438,344 462,341 460,348 417,349 463,343 449,346 432,343 505,344 524,349 396,350 506,352 393,341 521,349 472,350 492,343 446,350 410,356 389,347 466,346 406,350 421,345 491,348 465,344 476,345 430,353 394,341 448,346 450,341 451,341 492,351 459,356 472,355 440,347 407,349 406,345 464,348 496,348 431,354 401,341 493,355 511,346 503,354 506,353 479,345 518,345 467,345 529,351 436,351 449,349 534,346 466,349 406,351 425,344 447,348 426,343 429,351 510,349 486,348 530,354 475,345 517,354 417,346 461,354 398,351 410,354 481,346 483,342 412,345 522,344 422,347 441,349 514,346 414,357 428,354 406,357 434,351 425,345 491,350 497,354 393,355 498,343 394,351 526,354 499,354 434,346 416,355 528,347 436,354 455,343 439,350 460,354 440,348 477,356 441,353 390,347 444,343 450,343 418,352 510,351 403,344 410,350 409,348 472,353 443,352 433,341 404,349 478,342 515,346 411,349 389,352 519,351 499,352 532,347 423,357 446,342 445,350 468,351 415,351 516,349 455,344 394,352 532,344 435,357 499,347 452,345 382,351 369,347 333,355 377,344 315,352 377,357 325,352 377,349 387,354 357,344 340,347 325,356 373,350 350,349 313,354 326,354 336,348 381,347 373,356 336,351 365,357 378,351 302,355 371,351 352,355 316,353 365,358 318,353 355,350 347,349 385,356 364,345 375,356 318,356 359,354 353,346 356,345 349,353 386,352 378,353 324,356 331,350 329,350 348,350 381,356 319,356 349,352 368,345 369,350 384,351 358,352 337,355 334,349 314,356 354,356 331,354 323,354 340,350 334,351 346,354 369,353 305,353 359,356 358,346 374,355 343,357 379,351 384,354 320,356 377,356 331,352 330,355 336,355 363,349 383,354 347,350 384,345 350,353 368,353 345,355 321,356 363,352 340,351 370,355 339,350 385,352 340,348 370,352 377,346 363,344 375,351 314,353 348,347 348,345 342,355 355,347 349,355 366,357 363,347 366,354 312,352 358,349 349,354 382,355 357,355 350,355 346,346 326,350 371,353 321,353 344,351 361,346 335,351 348,344 355,352 320,352 368,352 325,357 386,349 355,354 370,357 371,344 380,350 329,356 380,353 330,352 376,356 368,348 358,350 369,348 356,350 342,354 381,358 347,345 359,351 327,356 366,356 368,350 315,356 328,350 379,354 358,357 338,356 351,343 340,349 333,352 341,351 372,358 324,352 358,345 332,353 326,351 347,353 372,354 367,352 336,347 353,347 350,344 365,348 346,348 332,352 346,345 374,348 349,348 386,354 355,353 351,350 361,349 384,347 307,352 376,348 339,356 360,357 333,356 360,351 359,349 378,348 360,346 361,344 361,350 361,356 343,345 335,345 356,347 371,354 329,354 334,356 338,343 375,353 356,353 384,357 360,345 362,352 341,348 354,348 379,357 371,345 371,350 379,356 333,349 347,354 371,346 370,349 306,355 303,352 351,347 387,347 351,348 384,353 352,344 341,349 328,353 364,344 353,357 355,351 349,350 304,353 320,357 384,350 310,353 345,347 377,348 322,354 380,352 353,353 331,355 378,352 378,350 384,356 352,346 335,346 319,354 338,348 352,348 372,351 376,352 327,353 331,356 351,354 374,352 359,345 312,350 353,350 333,348 384,349 354,351 369,351 376,355 360,355 345,349 315,358 379,355 380,354 376,354 370,345 324,351 364,348 374,346 372,352 324,355 311,356 383,351 382,357 372,349 336,352 383,357 343,347 358,347 341,347 328,351 325,354 380,351 345,352 343,344 385,347 342,353 385,354 364,357 319,353 376,351 367,354 381,351 315,354 360,352 315,353 309,355 369,354 311,354 342,350 364,350 346,350 310,356 358,353 333,354 338,350 365,347 332,355 386,350 388,349 359,352 369,346 375,354 314,354 349,351 308,350 323,353 363,358 381,350 343,351 374,349 363,345 323,357 309,356 342,348 370,351 346,351 338,351 328,355 372,347 354,355 335,356 383,344 316,350 304,356 356,357 362,354 375,349 381,346 355,346 383,350 381,345 351,345 350,352 322,357 360,353 321,352 353,354 331,351 355,349 348,353 326,349 356,355 304,352 352,351 308,352 355,355 302,354 330,356 308,353 358,354 376,350 383,345 373,348 370,353 359,346 360,349 363,348 345,350 337,346 350,356 327,350 364,351 340,345 332,356 337,351 372,346 347,357 335,348 327,355 367,348 354,345 380,356 353,348 325,353 354,353 333,350 382,353 357,351 339,355 351,344 359,347 345,346 367,357 369,349 302,353 312,353 537,345 550,345 555,346 547,346 556,346 548,346 567,345 548,344 528,352 540,351 529,352 545,353 557,353 556,353 530,351 528,351 522,352 559,352 539,351 548,353 534,353 555,352 534,352 556,352 552,352 294,353 255,344 244,344 240,344 258,359 265,340 291,356 294,358 273,358 244,342 265,350 251,334 258,361 267,358 288,350 240,338 250,351 267,347 271,354 284,359 300,353 253,337 292,351 274,358 273,346 243,341 272,345 250,346 237,338 290,354 246,343 282,357 257,351 290,360 287,355 274,343 255,333 276,349 275,350 250,354 252,334 292,354 263,343 277,356 299,356 284,349 240,340 268,353 290,356 255,342 278,356 290,372 291,376 268,370 275,371 271,372 278,373 272,375 276,370 282,371 263,378 276,377 291,373 287,376 281,370 264,374 286,377 281,379 282,376 267,371 262,380 279,373 281,374 274,375 275,376 265,374 256,368 277,370 288,373 232,380 260,365 230,363 250,375 258,369 311,371 248,371 235,379 294,362 278,381 305,374 301,380 313,379 284,372 252,369 240,362 293,377 272,368 288,380 284,378 287,375 236,371 254,375 252,370 272,377 312,368 225,370 241,367 253,380 292,370 249,375 249,365 220,317 197,295 143,278 188,273 199,292 239,308 221,320 246,299 225,288 224,286 182,319 186,277 168,276 166,297 154,263 191,300 181,305 182,295 180,286 207,263 165,301 195,311 227,302 214,278 177,286 195,307 180,318 251,302 217,306 237,294 226,314 219,280 247,335 160,277 232,335 201,299 149,282 248,339 143,276 196,315 219,325 199,314 179,301 133,271 213,292 185,304 133,284 211,267 179,288 194,304 171,295 225,306 209,300 129,267 162,314 169,316 215,293 227,332 156,275 163,272 244,301 230,289 177,301 215,297 221,323 230,297 159,308 190,288 221,308 199,258 242,331 183,273 252,329 132,287 392,304 411,326 404,310 402,319 404,328 403,327 397,308 410,326 404,313 414,329 408,322" fill="none" stroke="none" marker-start="url(#mb)" marker-mid="url(#mb)" marker-end="url(#mb)"/></g>
<polyline points="385.9,526.6 1772.9,934.6 2110.2,934.6" fill="none" stroke="#0000ff" stroke-width="23.5" stroke-linecap="butt" stroke-linejoin="round"/>
<g fill="none" stroke="#0000ff" stroke-width="3.6"><circle cx="345.8" cy="514.9" r="9.9"/><circle cx="356.3" cy="518.0" r="9.9"/><circle cx="366.9" cy="521.1" r="9.9"/><circle cx="377.4" cy="524.2" r="9.9"/><circle cx="2114.4" cy="934.6" r="9.9"/><circle cx="2122.8" cy="934.6" r="9.9"/><circle cx="2131.3" cy="934.6" r="9.9"/><circle cx="2139.7" cy="934.6" r="9.9"/><circle cx="2148.1" cy="934.6" r="9.9"/><circle cx="2156.6" cy="934.6" r="9.9"/><circle cx="2165.0" cy="934.6" r="9.9"/><circle cx="2173.4" cy="934.6" r="9.9"/><circle cx="2190.3" cy="934.6" r="9.9"/><circle cx="2205.1" cy="934.6" r="9.9"/><circle cx="2219.8" cy="934.6" r="9.9"/><circle cx="2232.5" cy="934.6" r="9.9"/></g>
<g stroke="#949494" stroke-width="7" fill="none">
<line x1="213" y1="30.5" x2="213" y2="1654"/>
<line x1="209.5" y1="1650.5" x2="2325" y2="1650.5"/>
<line x1="213" y1="34.0" x2="232" y2="34.0"/>
<line x1="2321.0" y1="1650" x2="2321.0" y2="1627.5"/>
</g>
<g stroke="#666" stroke-width="5" fill="none">
<line x1="216" y1="1419.6" x2="232" y2="1419.6"/>
<line x1="216" y1="1188.7" x2="232" y2="1188.7"/>
<line x1="216" y1="957.7" x2="232" y2="957.7"/>
<line x1="216" y1="726.8" x2="232" y2="726.8"/>
<line x1="216" y1="495.9" x2="232" y2="495.9"/>
<line x1="216" y1="264.9" x2="232" y2="264.9"/>
<line x1="423.8" y1="1647" x2="423.8" y2="1627.5"/>
<line x1="634.6" y1="1647" x2="634.6" y2="1627.5"/>
<line x1="845.4" y1="1647" x2="845.4" y2="1627.5"/>
<line x1="1056.2" y1="1647" x2="1056.2" y2="1627.5"/>
<line x1="1267.0" y1="1647" x2="1267.0" y2="1627.5"/>
<line x1="1477.8" y1="1647" x2="1477.8" y2="1627.5"/>
<line x1="1688.6" y1="1647" x2="1688.6" y2="1627.5"/>
<line x1="1899.4" y1="1647" x2="1899.4" y2="1627.5"/>
<line x1="2110.2" y1="1647" x2="2110.2" y2="1627.5"/>
</g>
<g font-family="Liberation Sans, Arial, sans-serif" font-size="63.5" fill="#1a1a1a">
<text x="180" y="1676.7" text-anchor="end">10</text>
<text x="180" y="1445.8" text-anchor="end">20</text>
<text x="180" y="1214.9" text-anchor="end">30</text>
<text x="180" y="983.9" text-anchor="end">40</text>
<text x="180" y="753.0" text-anchor="end">50</text>
<text x="180" y="522.1" text-anchor="end">60</text>
<text x="180" y="291.1" text-anchor="end">70</text>
<text x="180" y="60.2" text-anchor="end">80</text>
<text x="213.0" y="1747" text-anchor="middle">-20</text>
<text x="423.8" y="1747" text-anchor="middle">-15</text>
<text x="634.6" y="1747" text-anchor="middle">-10</text>
<text x="845.4" y="1747" text-anchor="middle">-5</text>
<text x="1056.2" y="1747" text-anchor="middle">0</text>
<text x="1267.0" y="1747" text-anchor="middle">5</text>
<text x="1477.8" y="1747" text-anchor="middle">10</text>
<text x="1688.6" y="1747" text-anchor="middle">15</text>
<text x="1899.4" y="1747" text-anchor="middle">20</text>
<text x="2110.2" y="1747" text-anchor="middle">25</text>
<text x="2321.0" y="1747" text-anchor="middle">30</text>
</g>
<text x="1267.5" y="1840.4" text-anchor="middle" font-family="Liberation Sans, Arial, sans-serif" font-size="70.3" fill="#1a1a1a">Outdoor temperature (C)</text>
<text transform="translate(76.6,846.3) rotate(-90)" x="0" y="0" text-anchor="middle" font-family="Liberation Sans, Arial, sans-serif" font-size="71.2" fill="#1a1a1a">Temperature (C)</text>
<rect x="279.5" y="1281.5" width="569.5" height="336.5" fill="#fff" stroke="#949494" stroke-width="6.5"/>
<g font-family="Liberation Sans, Arial, sans-serif" font-size="59.5" fill="#111">
<text x="456.3" y="1354.7">Tsupply 80/60</text>
<text x="456.3" y="1432.4">Treturn 80/60</text>
<text x="456.3" y="1513.8">Tsupply 60/40</text>
<text x="456.3" y="1591.4">Treturn 60/40</text>
</g>
<circle cx="372" cy="1329.8" r="17.5" fill="none" stroke="#c0304a" stroke-width="4"/>
<circle cx="372" cy="1490.5" r="17.5" fill="none" stroke="#3a3ab0" stroke-width="4"/>
<path d="M356.9 1397.7l23.0 23.0m0 -23.0l-23.0 23.0" stroke="#c0304a" stroke-width="3.8" fill="none"/>
<path d="M356.9 1557.0l23.0 23.0m0 -23.0l-23.0 23.0" stroke="#2a2aa0" stroke-width="3.8" fill="none"/></svg>
</body></html>
